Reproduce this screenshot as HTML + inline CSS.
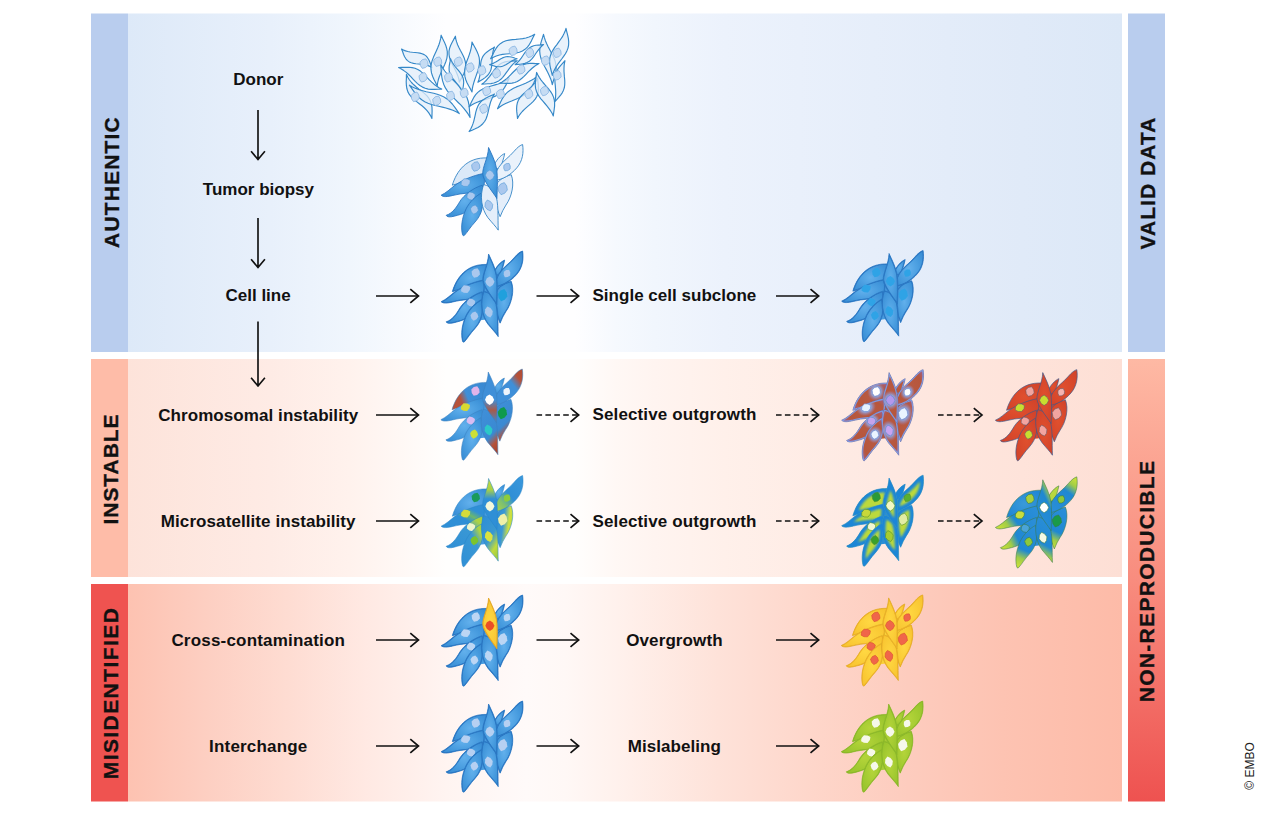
<!DOCTYPE html><html><head><meta charset="utf-8"><title>Cell line authenticity</title>
<style>
html,body{margin:0;padding:0;background:#fff}
#stage{position:relative;width:1264px;height:817px;overflow:hidden;background:#fff;font-family:"Liberation Sans",sans-serif;}
svg{position:absolute;left:0;top:0}
.t{position:absolute;font-weight:bold;font-size:17px;line-height:20px;height:20px;color:#111;white-space:nowrap;text-align:center;transform:translateX(-50%)}
.v{position:absolute;font-weight:bold;font-size:21px;line-height:21px;-webkit-text-stroke:0.35px #111;color:#111;white-space:nowrap;transform:translate(-50%,-50%) rotate(-90deg);transform-origin:50% 50%}
.c{position:absolute;font-size:12px;line-height:12px;color:#222;white-space:nowrap;transform:translate(-50%,-50%) rotate(-90deg)}
</style></head><body><div id="stage">
<svg width="1264" height="817" viewBox="0 0 1264 817">
<defs>
<linearGradient id="b1" x1="0" x2="1" y1="0" y2="0"><stop offset="0" stop-color="#dde9f8"/><stop offset="0.143" stop-color="#e8f0fb"/><stop offset="0.223" stop-color="#f0f6fd"/><stop offset="0.274" stop-color="#f7fafe"/><stop offset="0.32" stop-color="#fefeff"/><stop offset="0.45" stop-color="#fefeff"/><stop offset="0.49" stop-color="#f6f9fe"/><stop offset="0.53" stop-color="#f1f6fd"/><stop offset="0.6" stop-color="#ecf2fc"/><stop offset="0.75" stop-color="#e6eefa"/><stop offset="0.9" stop-color="#e0eaf8"/><stop offset="1" stop-color="#dce8f7"/></linearGradient>
<linearGradient id="b2" x1="0" x2="1" y1="0" y2="0"><stop offset="0" stop-color="#fde3da"/><stop offset="0.143" stop-color="#feebe5"/><stop offset="0.223" stop-color="#fff2ed"/><stop offset="0.274" stop-color="#fff8f5"/><stop offset="0.32" stop-color="#fffefd"/><stop offset="0.45" stop-color="#fffefd"/><stop offset="0.49" stop-color="#fff8f5"/><stop offset="0.53" stop-color="#fff4f0"/><stop offset="0.6" stop-color="#fff0ea"/><stop offset="0.75" stop-color="#fee9e2"/><stop offset="0.9" stop-color="#fee3da"/><stop offset="1" stop-color="#fddfd5"/></linearGradient>
<linearGradient id="b3" x1="0" x2="1" y1="0" y2="0"><stop offset="0" stop-color="#fdc2b1"/><stop offset="0.08" stop-color="#fdcfc2"/><stop offset="0.16" stop-color="#fedcd2"/><stop offset="0.24" stop-color="#ffe9e3"/><stop offset="0.32" stop-color="#fff4f1"/><stop offset="0.4" stop-color="#fffaf9"/><stop offset="0.44" stop-color="#fff8f6"/><stop offset="0.5" stop-color="#fff0eb"/><stop offset="0.594" stop-color="#fee2d9"/><stop offset="0.69" stop-color="#fed6ca"/><stop offset="0.785" stop-color="#fdccbe"/><stop offset="0.88" stop-color="#fdc3b2"/><stop offset="1" stop-color="#fdbba8"/></linearGradient>
<linearGradient id="r2" x1="0" x2="0" y1="0" y2="1"><stop offset="0" stop-color="#feb9a4"/><stop offset="0.5" stop-color="#f88c7e"/><stop offset="1" stop-color="#ee5250"/></linearGradient>
<linearGradient id="gBlue" x1="0" x2="1" y1="0" y2="1"><stop offset="0" stop-color="#4a9fe0"/><stop offset="1" stop-color="#2b7fcb"/></linearGradient>

<radialGradient id="gB" cx="0.5" cy="0.5" r="0.6"><stop offset="0" stop-color="#62b0ec"/><stop offset="0.6" stop-color="#489cdf"/><stop offset="1" stop-color="#3a8fd6"/></radialGradient>
<linearGradient id="cr_tr" x1="0" y1="1" x2="1" y2="0"><stop offset="0" stop-color="#3f8fd8"/><stop offset="0.62" stop-color="#3f8fd8"/><stop offset="0.8" stop-color="#b5523a"/><stop offset="1" stop-color="#b04a32"/></linearGradient>
<linearGradient id="cr_l" x1="0" y1="0.6" x2="1" y2="0.3"><stop offset="0" stop-color="#b5523a"/><stop offset="0.22" stop-color="#b5523a"/><stop offset="0.42" stop-color="#3f8fd8"/><stop offset="1" stop-color="#3a89d2"/></linearGradient>
<linearGradient id="cr_b" x1="0.3" y1="0" x2="0.7" y2="1"><stop offset="0" stop-color="#3f8fd8"/><stop offset="0.6" stop-color="#3a89d2"/><stop offset="0.82" stop-color="#b5523a"/><stop offset="1" stop-color="#a8452e"/></linearGradient>
<linearGradient id="cr_m" x1="0.5" y1="0" x2="0.5" y2="1"><stop offset="0" stop-color="#3f8fd8"/><stop offset="0.55" stop-color="#3f8fd8"/><stop offset="0.75" stop-color="#a85a4a"/><stop offset="1" stop-color="#3a89d2"/></linearGradient>
<linearGradient id="ms_t" x1="0.5" y1="0" x2="0.5" y2="1"><stop offset="0" stop-color="#c8dc3c"/><stop offset="0.22" stop-color="#a8d048"/><stop offset="0.40" stop-color="#2f8fd6"/><stop offset="1" stop-color="#2f8fd6"/></linearGradient>
<linearGradient id="ms_r" x1="0" y1="0.3" x2="1" y2="0.6"><stop offset="0" stop-color="#2f8fd6"/><stop offset="0.45" stop-color="#3a98d4"/><stop offset="0.75" stop-color="#cfe040"/><stop offset="1" stop-color="#b8d83c"/></linearGradient>
<linearGradient id="ms_b" x1="0.2" y1="0" x2="0.8" y2="1"><stop offset="0" stop-color="#2f8fd6"/><stop offset="0.5" stop-color="#3a98d0"/><stop offset="0.78" stop-color="#c0da3c"/><stop offset="1" stop-color="#9ccc40"/></linearGradient>
<linearGradient id="ms_d" x1="0" y1="1" x2="1" y2="0"><stop offset="0" stop-color="#2f8fd6"/><stop offset="0.62" stop-color="#3a98d4"/><stop offset="0.85" stop-color="#b0d440"/><stop offset="1" stop-color="#a0d048"/></linearGradient>
<linearGradient id="ms_7" x1="0" y1="1" x2="1" y2="0"><stop offset="0" stop-color="#b8d83c"/><stop offset="0.28" stop-color="#7cc070"/><stop offset="0.5" stop-color="#2f8fd6"/><stop offset="1" stop-color="#3a98dc"/></linearGradient>
<linearGradient id="ms_u" x1="0" y1="1" x2="1" y2="0"><stop offset="0" stop-color="#2f8fd6"/><stop offset="0.45" stop-color="#2f8fd6"/><stop offset="0.6" stop-color="#6cb86c"/><stop offset="0.75" stop-color="#2f8fd6"/><stop offset="1" stop-color="#2f8fd6"/></linearGradient>
<radialGradient id="mo1" cx="0.5" cy="0.5" r="0.55"><stop offset="0" stop-color="#c4de3a"/><stop offset="0.45" stop-color="#a4d048"/><stop offset="0.8" stop-color="#2a8ed8"/><stop offset="1" stop-color="#1f86d6"/></radialGradient>
<linearGradient id="mo2_tip_l" x1="0" y1="0.7" x2="1" y2="0.3"><stop offset="0" stop-color="#c4de3a"/><stop offset="0.2" stop-color="#a0cc48"/><stop offset="0.42" stop-color="#1f88d2"/><stop offset="1" stop-color="#2a8ed8"/></linearGradient>
<linearGradient id="mo2_tip_b" x1="0.6" y1="0" x2="0.4" y2="1"><stop offset="0" stop-color="#2a8ed8"/><stop offset="0.6" stop-color="#1f88d2"/><stop offset="0.82" stop-color="#a0cc48"/><stop offset="1" stop-color="#c4de3a"/></linearGradient>
<linearGradient id="mo2_tip_t" x1="0.2" y1="1" x2="0.8" y2="0"><stop offset="0" stop-color="#2a8ed8"/><stop offset="0.64" stop-color="#1f88d2"/><stop offset="0.85" stop-color="#a0cc48"/><stop offset="1" stop-color="#c4de3a"/></linearGradient>
<radialGradient id="co1" cx="0.5" cy="0.5" r="0.65"><stop offset="0" stop-color="#b85a42"/><stop offset="0.7" stop-color="#b6563c"/><stop offset="1" stop-color="#a0608a"/></radialGradient>
<linearGradient id="co1b" x1="0" y1="1" x2="1" y2="0"><stop offset="0" stop-color="#b4503a"/><stop offset="0.45" stop-color="#9a6a80"/><stop offset="0.7" stop-color="#8aa0dc"/><stop offset="1" stop-color="#b4503a"/></linearGradient>
<linearGradient id="co1c" x1="0" y1="0" x2="1" y2="1"><stop offset="0" stop-color="#8aa0dc"/><stop offset="0.4" stop-color="#9a7090"/><stop offset="1" stop-color="#b4503a"/></linearGradient>
<radialGradient id="co2" cx="0.5" cy="0.5" r="0.6"><stop offset="0" stop-color="#e0502e"/><stop offset="1" stop-color="#d2432a"/></radialGradient>
<radialGradient id="gY" cx="0.5" cy="0.5" r="0.6"><stop offset="0" stop-color="#ffd842"/><stop offset="1" stop-color="#f8c430"/></radialGradient>
<radialGradient id="gG" cx="0.5" cy="0.5" r="0.6"><stop offset="0" stop-color="#b4d43a"/><stop offset="1" stop-color="#98c42c"/></radialGradient>
<radialGradient id="hLil"><stop offset="0" stop-color="#8ea8e4" stop-opacity="0.95"/><stop offset="0.55" stop-color="#8ea8e4" stop-opacity="0.85"/><stop offset="0.8" stop-color="#9a88b8" stop-opacity="0.45"/><stop offset="1" stop-color="#a87080" stop-opacity="0"/></radialGradient>
<radialGradient id="hGrn"><stop offset="0" stop-color="#c6de3a" stop-opacity="1"/><stop offset="0.55" stop-color="#b4d840" stop-opacity="0.95"/><stop offset="0.8" stop-color="#7cc070" stop-opacity="0.5"/><stop offset="1" stop-color="#4aa8b0" stop-opacity="0"/></radialGradient>
<radialGradient id="gB2" cx="0.5" cy="0.5" r="0.6"><stop offset="0" stop-color="#3a9ad8"/><stop offset="1" stop-color="#1f86d6"/></radialGradient>
<clipPath id="cc9"><path d="M555 149 C528 160 490 195 462 262 L522 262 C534 222 548 186 555 149Z"/></clipPath><clipPath id="cc7"><path d="M688 82 C672 86 650 102 625 132 C590 174 540 206 510 252 C490 286 480 320 474 352 C540 342 600 308 645 255 C688 205 697 142 688 82Z"/></clipPath><clipPath id="cc8"><path d="M603 306 C630 372 608 470 564 532 C546 558 534 586 521 618 C496 560 474 470 486 400 C498 345 560 318 603 306Z"/></clipPath><clipPath id="cc1"><path d="M166 384 C195 285 270 172 430 182 C430 240 420 300 400 340 C335 345 240 360 166 384Z"/></clipPath><clipPath id="cc2"><path d="M83 458 C120 442 150 412 185 385 C240 345 320 312 398 297 C410 340 405 380 392 425 C320 445 240 440 170 460 C130 470 98 474 83 458Z"/></clipPath><clipPath id="cc3"><path d="M120 608 C165 594 195 552 222 505 C250 458 320 405 388 384 C400 430 392 480 360 522 C310 575 240 600 180 614 C150 622 126 622 120 608Z"/></clipPath><clipPath id="cc4"><path d="M242 752 C228 700 236 630 268 560 C296 505 340 465 382 442 C402 520 392 595 334 658 C300 694 280 730 256 756 C250 761 244 759 242 752Z"/></clipPath><clipPath id="cc6"><path d="M398 380 C368 465 382 560 430 625 C460 662 490 692 507 718 C503 620 512 520 484 440 C462 400 425 385 398 380Z"/></clipPath><clipPath id="cc5"><path d="M435 104 C432 184 388 250 392 302 C398 352 455 420 497 482 C501 400 503 320 495 262 C485 205 458 154 435 104Z"/></clipPath><filter id="bl5" x="-30%" y="-30%" width="160%" height="160%"><feGaussianBlur stdDeviation="5"/></filter><filter id="bl9" x="-30%" y="-30%" width="160%" height="160%"><feGaussianBlur stdDeviation="9"/></filter>
</defs>
<rect x="91" y="13.5" width="37" height="338.5" fill="#b9cdee"/>
<rect x="128" y="13.5" width="994" height="338.5" fill="url(#b1)"/>
<rect x="1128" y="13.5" width="37" height="338.5" fill="#b9cdee"/>
<rect x="91" y="359" width="37" height="218" fill="#febca8"/>
<rect x="128" y="359" width="994" height="218" fill="url(#b2)"/>
<rect x="91" y="584" width="37" height="217.5" fill="#ef5350"/>
<rect x="128" y="584" width="994" height="217.5" fill="url(#b3)"/>
<rect x="1128" y="359" width="37" height="442.5" fill="url(#r2)"/>
<g fill="none" stroke="#111" stroke-width="1.65" stroke-linecap="butt" stroke-linejoin="miter">
<path d="M258 110V159.0M251.1 151.3L258 159.5L264.9 151.3"/>
<path d="M258 218V267.0M251.1 259.3L258 267.5L264.9 259.3"/>
<path d="M258 321.5V385.5M251.1 377.8L258 386L264.9 377.8"/>
<path d="M376 296H418.0"/><path d="M410.3 289.1L418.5 296L410.3 302.9"/>
<path d="M536.5 296H578.2"/><path d="M570.5 289.1L578.7 296L570.5 302.9"/>
<path d="M776 296H818.2"/><path d="M810.5 289.1L818.7 296L810.5 302.9"/>
<path d="M376 415H418.0"/><path d="M410.3 408.1L418.5 415L410.3 421.9"/>
<path d="M536.5 415H578.2" stroke-dasharray="5.6 3.3" stroke-width="1.45"/><path d="M570.5 408.1L578.7 415L570.5 421.9"/>
<path d="M776 415H818.2" stroke-dasharray="5.6 3.3" stroke-width="1.45"/><path d="M810.5 408.1L818.7 415L810.5 421.9"/>
<path d="M938 415H981.5" stroke-dasharray="5.6 3.3" stroke-width="1.45"/><path d="M973.8 408.1L982 415L973.8 421.9"/>
<path d="M376 521H418.0"/><path d="M410.3 514.1L418.5 521L410.3 527.9"/>
<path d="M536.5 521H578.2" stroke-dasharray="5.6 3.3" stroke-width="1.45"/><path d="M570.5 514.1L578.7 521L570.5 527.9"/>
<path d="M776 521H818.2" stroke-dasharray="5.6 3.3" stroke-width="1.45"/><path d="M810.5 514.1L818.7 521L810.5 527.9"/>
<path d="M938 521H981.5" stroke-dasharray="5.6 3.3" stroke-width="1.45"/><path d="M973.8 514.1L982 521L973.8 527.9"/>
<path d="M376 640H418.0"/><path d="M410.3 633.1L418.5 640L410.3 646.9"/>
<path d="M536.5 640H578.2"/><path d="M570.5 633.1L578.7 640L570.5 646.9"/>
<path d="M776 640H818.2"/><path d="M810.5 633.1L818.7 640L810.5 646.9"/>
<path d="M376 746H418.0"/><path d="M410.3 739.1L418.5 746L410.3 752.9"/>
<path d="M536.5 746H578.2"/><path d="M570.5 739.1L578.7 746L570.5 752.9"/>
<path d="M776 746H818.2"/><path d="M810.5 739.1L818.7 746L810.5 752.9"/>
</g>
<g fill="#e2eef9" fill-opacity="0.75" stroke="#3588c8" stroke-width="1.15" stroke-linejoin="round">
<path d="M401.5 49.0 L402.6 51.5 L403.5 54.2 L404.6 56.7 L405.9 58.8 L407.5 60.6 L409.3 61.9 L411.3 62.8 L413.5 63.4 L415.9 63.8 L418.4 64.0 L420.9 64.2 L423.3 64.5 L425.7 65.0 L427.9 65.6 L430.0 66.4 L431.9 67.6 L430.9 65.0 L429.9 62.3 L428.8 59.8 L427.5 57.7 L426.0 55.9 L424.2 54.6 L422.1 53.7 L419.9 53.1 L417.5 52.7 L415.0 52.5 L412.5 52.3 L410.1 52.0 L407.8 51.5 L405.6 50.9 L403.5 50.1Z"/>
<path d="M398.6 67.6 L401.3 68.9 L403.8 70.6 L406.3 72.4 L408.6 74.5 L410.8 76.7 L413.0 79.1 L415.2 81.4 L417.5 83.6 L419.9 85.5 L422.5 87.1 L425.2 88.3 L428.2 89.1 L431.4 89.4 L434.8 89.4 L438.3 89.2 L441.7 89.1 L439.0 87.7 L436.5 86.1 L434.0 84.2 L431.7 82.1 L429.4 79.9 L427.2 77.6 L425.0 75.3 L422.8 73.1 L420.4 71.1 L417.8 69.5 L415.0 68.3 L412.1 67.6 L408.9 67.3 L405.5 67.3 L402.0 67.4Z"/>
<path d="M406.4 74.4 L406.4 78.1 L406.2 81.9 L406.4 85.5 L406.9 88.8 L407.9 91.9 L409.5 94.7 L411.5 97.2 L413.9 99.5 L416.6 101.6 L419.3 103.7 L422.0 105.8 L424.5 108.0 L426.8 110.4 L428.8 112.9 L430.5 115.6 L431.9 118.5 L432.0 114.7 L432.1 111.0 L432.0 107.4 L431.4 104.0 L430.4 101.0 L428.8 98.2 L426.8 95.7 L424.4 93.4 L421.8 91.3 L419.0 89.2 L416.3 87.0 L413.8 84.8 L411.5 82.5 L409.5 80.0 L407.8 77.3Z"/>
<path d="M409.4 85.2 L411.7 88.4 L414.0 91.6 L416.3 94.7 L418.9 97.5 L421.7 99.8 L424.7 101.8 L428.0 103.3 L431.4 104.5 L435.0 105.4 L438.7 106.3 L442.3 107.1 L445.9 108.0 L449.5 109.1 L452.9 110.3 L456.2 111.8 L459.3 113.6 L457.0 110.4 L454.7 107.1 L452.3 104.0 L449.8 101.3 L447.0 98.9 L444.0 97.0 L440.7 95.5 L437.2 94.3 L433.7 93.3 L430.0 92.5 L426.3 91.7 L422.7 90.7 L419.2 89.7 L415.8 88.4 L412.5 86.9Z"/>
<path d="M441.1 35.2 L440.7 38.4 L439.9 41.6 L438.9 44.7 L437.7 47.8 L436.3 50.9 L434.9 54.0 L433.5 57.1 L432.3 60.2 L431.4 63.3 L430.9 66.5 L431.0 69.7 L431.5 72.9 L432.6 76.2 L434.0 79.5 L435.7 82.8 L437.2 86.2 L437.6 83.0 L438.3 79.8 L439.3 76.7 L440.6 73.6 L441.9 70.5 L443.4 67.4 L444.8 64.3 L446.0 61.2 L446.9 58.1 L447.3 54.9 L447.3 51.7 L446.7 48.5 L445.7 45.2 L444.3 41.9 L442.6 38.6Z"/>
<path d="M455.4 36.2 L453.8 39.3 L452.2 42.3 L450.7 45.3 L449.6 48.3 L449.0 51.2 L449.0 54.2 L449.4 57.0 L450.3 59.8 L451.5 62.6 L452.9 65.4 L454.4 68.2 L455.8 71.0 L457.0 73.7 L458.1 76.6 L458.9 79.4 L459.3 82.2 L460.9 79.2 L462.5 76.2 L464.0 73.2 L465.1 70.2 L465.7 67.2 L465.7 64.3 L465.3 61.5 L464.4 58.6 L463.2 55.8 L461.8 53.1 L460.3 50.3 L458.9 47.5 L457.6 44.7 L456.6 41.9 L455.8 39.1Z"/>
<path d="M472.0 42.1 L471.7 45.2 L471.1 48.3 L470.3 51.5 L469.3 54.6 L468.2 57.7 L467.0 60.8 L466.0 63.9 L465.2 67.1 L464.7 70.2 L464.6 73.3 L464.9 76.4 L465.7 79.5 L467.0 82.7 L468.6 85.8 L470.4 88.9 L472.0 92.0 L472.3 88.9 L472.9 85.8 L473.8 82.7 L474.8 79.5 L475.9 76.4 L477.0 73.3 L478.1 70.2 L478.9 67.1 L479.4 63.9 L479.5 60.8 L479.2 57.7 L478.3 54.6 L477.0 51.5 L475.4 48.3 L473.7 45.2Z"/>
<path d="M494.5 47.0 L492.2 48.6 L489.7 50.1 L487.3 51.7 L485.3 53.4 L483.6 55.3 L482.4 57.4 L481.5 59.7 L480.9 62.1 L480.6 64.7 L480.4 67.3 L480.3 69.9 L480.2 72.5 L479.9 75.1 L479.4 77.6 L478.8 80.0 L477.9 82.2 L480.3 80.7 L482.8 79.2 L485.1 77.6 L487.2 75.8 L488.8 73.9 L490.1 71.8 L491.0 69.6 L491.5 67.1 L491.8 64.6 L492.0 62.0 L492.1 59.3 L492.3 56.7 L492.6 54.1 L493.0 51.7 L493.6 49.3Z"/>
<path d="M534.7 34.3 L532.0 35.8 L529.0 37.0 L525.9 38.0 L522.7 38.6 L519.3 39.0 L515.9 39.4 L512.5 39.6 L509.1 40.1 L505.9 40.8 L502.9 42.0 L500.3 43.7 L497.9 45.9 L495.9 48.7 L494.0 51.9 L492.4 55.4 L490.6 58.7 L493.4 57.2 L496.3 56.0 L499.4 55.0 L502.6 54.4 L506.0 54.0 L509.4 53.7 L512.9 53.4 L516.2 52.9 L519.4 52.2 L522.4 51.0 L525.0 49.3 L527.4 47.1 L529.5 44.3 L531.3 41.1 L533.0 37.6Z"/>
<path d="M440.7 64.6 L441.1 68.7 L441.3 72.9 L441.8 77.0 L442.6 80.9 L443.8 84.5 L445.4 87.9 L447.5 91.1 L449.9 94.1 L452.6 96.9 L455.4 99.7 L458.2 102.5 L461.0 105.2 L463.6 108.1 L466.0 111.1 L468.2 114.2 L470.1 117.5 L469.7 113.4 L469.4 109.2 L469.0 105.1 L468.2 101.2 L467.0 97.6 L465.3 94.2 L463.3 91.0 L460.9 88.0 L458.2 85.2 L455.4 82.4 L452.6 79.6 L449.8 76.9 L447.2 74.0 L444.8 71.0 L442.6 67.9Z"/>
<path d="M517.1 60.7 L514.0 60.9 L510.9 61.1 L507.9 61.3 L505.1 61.9 L502.5 62.8 L500.2 64.0 L498.1 65.6 L496.2 67.6 L494.4 69.7 L492.8 72.0 L491.1 74.3 L489.5 76.6 L487.7 78.7 L485.9 80.8 L483.9 82.6 L481.8 84.2 L484.9 84.0 L487.9 83.8 L490.9 83.6 L493.8 83.0 L496.3 82.1 L498.7 80.9 L500.8 79.3 L502.7 77.3 L504.5 75.2 L506.1 72.9 L507.8 70.6 L509.4 68.3 L511.2 66.2 L513.0 64.1 L514.9 62.3Z"/>
<path d="M469.1 106.7 L471.6 105.0 L474.3 103.5 L477.2 102.2 L480.1 101.1 L483.2 100.1 L486.4 99.2 L489.5 98.3 L492.6 97.3 L495.5 96.1 L498.1 94.6 L500.5 92.6 L502.7 90.3 L504.5 87.6 L506.2 84.6 L507.7 81.4 L509.2 78.3 L506.7 80.1 L504.0 81.6 L501.2 82.9 L498.2 84.0 L495.1 84.9 L492.0 85.8 L488.8 86.7 L485.8 87.7 L482.9 88.9 L480.2 90.5 L477.8 92.4 L475.7 94.7 L473.8 97.4 L472.2 100.4 L470.7 103.6Z"/>
<path d="M469.1 131.6 L472.1 130.2 L475.2 128.8 L478.0 127.4 L480.6 125.7 L482.8 123.7 L484.6 121.5 L486.0 119.0 L487.0 116.3 L487.8 113.4 L488.5 110.4 L489.1 107.5 L489.9 104.5 L490.7 101.7 L491.8 99.0 L493.0 96.4 L494.5 94.0 L491.6 95.4 L488.5 96.7 L485.6 98.2 L483.0 99.9 L480.8 101.8 L479.0 104.1 L477.7 106.6 L476.6 109.3 L475.8 112.2 L475.2 115.1 L474.5 118.1 L473.8 121.1 L472.9 123.9 L471.9 126.6 L470.6 129.2Z"/>
<path d="M497.5 108.7 L500.0 106.8 L502.7 105.1 L505.6 103.6 L508.5 102.2 L511.6 101.0 L514.6 99.7 L517.7 98.5 L520.7 97.1 L523.4 95.5 L526.0 93.7 L528.3 91.5 L530.3 89.0 L532.1 86.2 L533.7 83.1 L535.1 79.9 L536.6 76.8 L534.1 78.7 L531.4 80.3 L528.6 81.8 L525.6 83.2 L522.6 84.5 L519.5 85.7 L516.4 86.9 L513.5 88.3 L510.7 89.9 L508.1 91.7 L505.8 93.9 L503.8 96.4 L502.0 99.3 L500.5 102.3 L499.0 105.5Z"/>
<path d="M543.5 34.3 L542.5 37.7 L541.4 41.1 L540.5 44.5 L539.9 47.9 L539.7 51.1 L540.0 54.3 L540.7 57.5 L541.7 60.5 L543.1 63.5 L544.6 66.5 L546.2 69.4 L547.8 72.4 L549.2 75.4 L550.5 78.4 L551.6 81.5 L552.3 84.6 L553.3 81.2 L554.4 77.7 L555.3 74.3 L555.9 71.0 L556.1 67.7 L555.8 64.5 L555.2 61.4 L554.1 58.3 L552.7 55.3 L551.2 52.4 L549.6 49.4 L548.0 46.4 L546.6 43.4 L545.3 40.4 L544.3 37.4Z"/>
<path d="M566.0 28.4 L565.1 31.3 L563.8 34.1 L562.3 36.9 L560.5 39.5 L558.6 42.2 L556.7 44.8 L554.7 47.4 L553.0 50.1 L551.5 52.8 L550.4 55.7 L549.7 58.7 L549.6 61.9 L549.9 65.1 L550.6 68.5 L551.5 72.0 L552.3 75.4 L553.3 72.5 L554.5 69.7 L556.1 66.9 L557.8 64.2 L559.7 61.6 L561.7 59.0 L563.6 56.4 L565.4 53.7 L566.9 50.9 L568.0 48.1 L568.6 45.1 L568.7 41.9 L568.4 38.6 L567.7 35.3 L566.8 31.8Z"/>
<path d="M565.0 60.7 L563.0 62.9 L561.0 65.1 L559.1 67.4 L557.5 69.7 L556.3 72.2 L555.5 74.7 L555.0 77.3 L554.9 80.0 L555.0 82.8 L555.3 85.6 L555.5 88.4 L555.7 91.2 L555.7 93.9 L555.6 96.6 L555.3 99.2 L554.7 101.8 L556.7 99.6 L558.7 97.4 L560.6 95.1 L562.2 92.8 L563.4 90.4 L564.3 87.8 L564.7 85.2 L564.8 82.5 L564.7 79.7 L564.4 76.9 L564.2 74.2 L564.0 71.4 L564.0 68.6 L564.1 65.9 L564.4 63.3Z"/>
<path d="M517.5 118.5 L518.8 116.0 L520.5 113.7 L522.3 111.5 L524.4 109.4 L526.6 107.4 L528.9 105.4 L531.2 103.4 L533.3 101.3 L535.2 99.1 L536.7 96.7 L537.7 94.1 L538.3 91.2 L538.4 88.2 L538.3 84.9 L537.9 81.6 L537.6 78.3 L536.3 80.8 L534.6 83.1 L532.7 85.3 L530.7 87.4 L528.4 89.4 L526.1 91.4 L523.9 93.4 L521.8 95.5 L519.9 97.7 L518.4 100.1 L517.4 102.7 L516.8 105.6 L516.6 108.6 L516.8 111.9 L517.2 115.2Z"/>
<path d="M536.6 72.4 L536.2 75.7 L535.7 79.0 L535.4 82.3 L535.3 85.4 L535.6 88.4 L536.4 91.2 L537.6 93.9 L539.1 96.4 L540.9 98.8 L542.9 101.2 L544.9 103.5 L546.9 105.9 L548.8 108.3 L550.5 110.7 L552.1 113.3 L553.3 115.9 L553.7 112.6 L554.2 109.3 L554.6 106.1 L554.6 102.9 L554.3 100.0 L553.5 97.1 L552.4 94.5 L550.8 91.9 L549.0 89.5 L547.0 87.2 L545.0 84.8 L543.0 82.5 L541.1 80.1 L539.4 77.6 L537.9 75.1Z"/>
<path d="M515.1 64.6 L517.6 64.4 L520.1 64.2 L522.6 63.9 L524.9 63.4 L527.0 62.6 L528.9 61.6 L530.6 60.2 L532.1 58.6 L533.5 56.9 L534.8 55.0 L536.1 53.0 L537.5 51.1 L538.8 49.3 L540.3 47.6 L541.8 46.0 L543.5 44.6 L541.0 44.9 L538.5 45.1 L536.0 45.3 L533.7 45.8 L531.6 46.6 L529.7 47.7 L528.0 49.0 L526.5 50.6 L525.1 52.4 L523.8 54.3 L522.5 56.2 L521.2 58.1 L519.8 60.0 L518.3 61.7 L516.8 63.2Z"/>
<path d="M450.5 58.7 L450.1 61.2 L449.6 63.8 L449.2 66.2 L449.1 68.6 L449.2 70.9 L449.8 73.0 L450.6 75.1 L451.7 77.0 L453.1 78.9 L454.6 80.7 L456.1 82.5 L457.6 84.3 L459.0 86.2 L460.3 88.1 L461.4 90.0 L462.2 92.0 L462.7 89.5 L463.2 87.0 L463.5 84.6 L463.7 82.2 L463.5 79.9 L463.0 77.7 L462.1 75.7 L461.0 73.8 L459.6 71.9 L458.2 70.1 L456.6 68.3 L455.1 66.5 L453.7 64.6 L452.5 62.7 L451.4 60.8Z"/>
<path d="M489.7 64.6 L491.6 65.2 L493.5 65.8 L495.4 66.4 L497.3 66.7 L499.1 66.8 L500.8 66.6 L502.5 66.2 L504.2 65.5 L505.8 64.7 L507.4 63.7 L509.0 62.7 L510.5 61.7 L512.1 60.8 L513.7 60.0 L515.4 59.3 L517.1 58.7 L515.2 58.2 L513.2 57.5 L511.3 57.0 L509.5 56.7 L507.6 56.6 L505.9 56.7 L504.2 57.2 L502.5 57.9 L500.9 58.7 L499.3 59.7 L497.8 60.7 L496.2 61.7 L494.6 62.6 L493.0 63.4 L491.3 64.1Z"/>
<path d="M499.8 83.2 L502.9 83.3 L506.1 83.4 L509.1 83.4 L512.0 83.1 L514.8 82.5 L517.3 81.5 L519.7 80.0 L521.9 78.3 L524.0 76.4 L526.0 74.3 L528.0 72.2 L530.0 70.2 L532.1 68.3 L534.3 66.5 L536.6 64.9 L539.0 63.6 L535.9 63.6 L532.8 63.4 L529.7 63.4 L526.8 63.7 L524.1 64.4 L521.5 65.4 L519.2 66.8 L517.0 68.5 L514.9 70.5 L512.8 72.5 L510.8 74.6 L508.8 76.7 L506.7 78.6 L504.5 80.3 L502.2 81.9Z"/>
</g>
<g fill="#c6dcf3" stroke="#86b4e2" stroke-width="0.8">
<path d="M428.1 65.1 L425.6 67.5 L422.3 68.4 L420.4 65.6 L420.0 62.2 L422.4 59.6 L425.8 58.9 L427.7 61.7Z"/>
<path d="M427.1 78.8 L424.6 81.2 L421.4 82.1 L419.5 79.3 L419.0 75.9 L421.5 73.3 L424.8 72.6 L426.7 75.4Z"/>
<path d="M419.3 98.4 L416.8 100.8 L413.5 101.7 L411.6 98.9 L411.2 95.5 L413.6 92.9 L417.0 92.1 L418.9 95.0Z"/>
<path d="M440.8 102.3 L438.3 104.7 L435.1 105.6 L433.2 102.8 L432.7 99.4 L435.2 96.8 L438.5 96.1 L440.4 98.9Z"/>
<path d="M441.8 63.2 L439.3 65.6 L436.0 66.4 L434.1 63.6 L433.7 60.2 L436.2 57.7 L439.5 56.9 L441.4 59.7Z"/>
<path d="M462.4 63.2 L459.9 65.6 L456.6 66.4 L454.7 63.6 L454.3 60.2 L456.7 57.7 L460.1 56.9 L461.9 59.7Z"/>
<path d="M474.1 69.0 L471.6 71.4 L468.3 72.3 L466.5 69.5 L466.0 66.1 L468.5 63.5 L471.8 62.8 L473.7 65.6Z"/>
<path d="M485.9 72.0 L483.4 74.4 L480.1 75.2 L478.2 72.4 L477.8 69.0 L480.2 66.5 L483.6 65.7 L485.4 68.6Z"/>
<path d="M517.2 52.4 L514.7 54.8 L511.4 55.6 L509.5 52.8 L509.1 49.4 L511.5 46.9 L514.9 46.1 L516.8 49.0Z"/>
<path d="M452.6 78.8 L450.1 81.2 L446.8 82.1 L444.9 79.3 L444.5 75.9 L446.9 73.3 L450.3 72.6 L452.1 75.4Z"/>
<path d="M454.5 97.4 L452.1 99.8 L448.8 100.7 L446.9 97.9 L446.5 94.5 L448.9 91.9 L452.2 91.2 L454.1 94.0Z"/>
<path d="M468.2 94.5 L465.8 96.9 L462.5 97.7 L460.6 94.9 L460.2 91.5 L462.6 89.0 L465.9 88.2 L467.8 91.1Z"/>
<path d="M500.5 74.9 L498.1 77.3 L494.8 78.2 L492.9 75.4 L492.5 72.0 L494.9 69.4 L498.2 68.6 L500.1 71.5Z"/>
<path d="M490.8 92.5 L488.3 94.9 L485.0 95.8 L483.1 93.0 L482.7 89.6 L485.1 87.0 L488.5 86.3 L490.3 89.1Z"/>
<path d="M487.8 110.1 L485.3 112.6 L482.1 113.4 L480.2 110.6 L479.7 107.2 L482.2 104.7 L485.5 103.9 L487.4 106.7Z"/>
<path d="M504.5 95.5 L502.0 97.9 L498.7 98.7 L496.8 95.9 L496.4 92.5 L498.8 90.0 L502.2 89.2 L504.0 92.1Z"/>
<path d="M549.5 62.2 L547.0 64.6 L543.7 65.4 L541.8 62.6 L541.4 59.2 L543.8 56.7 L547.2 55.9 L549.1 58.8Z"/>
<path d="M561.2 54.3 L558.8 56.8 L555.5 57.6 L553.6 54.8 L553.2 51.4 L555.6 48.9 L558.9 48.1 L560.8 50.9Z"/>
<path d="M561.2 76.9 L558.8 79.3 L555.5 80.1 L553.6 77.3 L553.2 73.9 L555.6 71.4 L558.9 70.6 L560.8 73.5Z"/>
<path d="M532.9 95.5 L530.4 97.9 L527.1 98.7 L525.2 95.9 L524.8 92.5 L527.2 90.0 L530.6 89.2 L532.4 92.1Z"/>
<path d="M548.5 92.5 L546.0 94.9 L542.8 95.8 L540.9 93.0 L540.4 89.6 L542.9 87.0 L546.2 86.3 L548.1 89.1Z"/>
<path d="M533.8 54.3 L531.4 56.8 L528.1 57.6 L526.2 54.8 L525.8 51.4 L528.2 48.9 L531.5 48.1 L533.4 50.9Z"/>
<path d="M525.0 71.0 L522.5 73.4 L519.3 74.2 L517.4 71.4 L516.9 68.0 L519.4 65.5 L522.7 64.7 L524.6 67.6Z"/>
</g>
<g transform="translate(430 133.5) scale(0.1346)" stroke-linejoin="round">
<path d="M555 149 C528 160 490 195 462 262 L522 262 C534 222 548 186 555 149Z" fill="#eaf2fb" stroke="#2f82c4" stroke-width="6.5"/>
<path d="M603 306 C630 372 608 470 564 532 C546 558 534 586 521 618 C496 560 474 470 486 400 C498 345 560 318 603 306Z" fill="#e4eefa" stroke="#2f82c4" stroke-width="6.5"/>
<path d="M574.8 419.3 L555.2 443.7 L528.0 454.6 L510.6 431.1 L505.2 400.7 L524.3 375.2 L552.1 364.9 L569.4 388.9Z" fill="#aac8ee" stroke="#4a94d4" stroke-width="4"/>
<path d="M688 82 C672 86 650 102 625 132 C590 174 540 206 510 252 C490 286 480 320 474 352 C540 342 600 308 645 255 C688 205 697 142 688 82Z" fill="#eaf2fb" stroke="#2f82c4" stroke-width="6.5"/>
<path d="M595.4 263.5 L577.5 275.7 L556.2 277.3 L547.6 257.9 L548.6 236.5 L566.4 223.5 L587.9 222.5 L596.4 242.1Z" fill="#aac8ee" stroke="#4a94d4" stroke-width="4"/>
<path d="M166 384 C195 285 270 172 430 182 C430 240 420 300 400 340 C335 345 240 360 166 384Z" fill="#dbe9f8" stroke="#2f82c4" stroke-width="6.5"/>
<path d="M371.0 256.3 L352.2 274.3 L327.1 280.5 L312.4 259.3 L309.0 233.7 L327.4 214.7 L353.1 209.1 L367.6 230.7Z" fill="#aac8ee" stroke="#4a94d4" stroke-width="4"/>
<path d="M83 458 C120 442 150 412 185 385 C240 345 320 312 398 297 C410 340 405 380 392 425 C320 445 240 440 170 460 C130 470 98 474 83 458Z" fill="url(#gB)" stroke="#2874c0" stroke-width="6.5"/>
<path d="M299.4 348.9 L295.7 372.2 L278.3 393.5 L251.2 392.5 L230.6 381.1 L233.3 357.5 L251.6 336.2 L278.8 337.5Z" fill="#aac8ee" stroke="#4a94d4" stroke-width="4"/>
<path d="M120 608 C165 594 195 552 222 505 C250 458 320 405 388 384 C400 430 392 480 360 522 C310 575 240 600 180 614 C150 622 126 622 120 608Z" fill="url(#gB)" stroke="#2874c0" stroke-width="6.5"/>
<path d="M336.0 453.7 L332.1 476.6 L316.1 495.6 L292.0 490.7 L274.0 476.3 L277.0 453.0 L293.8 434.1 L318.0 439.3Z" fill="#aac8ee" stroke="#4a94d4" stroke-width="4"/>
<path d="M242 752 C228 700 236 630 268 560 C296 505 340 465 382 442 C402 520 392 595 334 658 C300 694 280 730 256 756 C250 761 244 759 242 752Z" fill="url(#gB)" stroke="#2874c0" stroke-width="6.5"/>
<path d="M359.5 570.2 L345.5 589.5 L324.0 599.1 L307.6 582.4 L300.5 559.8 L314.0 539.7 L336.1 530.6 L352.4 547.6Z" fill="#aac8ee" stroke="#4a94d4" stroke-width="4"/>
<path d="M398 380 C368 465 382 560 430 625 C460 662 490 692 507 718 C503 620 512 520 484 440 C462 400 425 385 398 380Z" fill="#e4eefa" stroke="#2f82c4" stroke-width="6.5"/>
<path d="M466.0 527.2 L462.6 555.1 L447.9 575.6 L425.1 564.5 L408.0 542.8 L410.6 514.3 L426.0 494.0 L448.9 505.5Z" fill="#aac8ee" stroke="#4a94d4" stroke-width="4"/>
<path d="M435 104 C432 184 388 250 392 302 C398 352 455 420 497 482 C501 400 503 320 495 262 C485 205 458 154 435 104Z" fill="url(#gB)" stroke="#2874c0" stroke-width="6.5"/>
<path d="M479.0 310.0 L467.1 334.1 L445.0 348.9 L423.4 333.5 L411.0 310.0 L422.2 285.1 L445.0 270.8 L466.6 286.5Z" fill="#aac8ee" stroke="#4a94d4" stroke-width="4"/>

</g>
<g transform="translate(430 240) scale(0.1346)" stroke-linejoin="round">
<path d="M290 320 L420 210 L560 250 L590 400 L515 580 L340 600 L290 470Z" fill="#489cdf"/>
<path d="M555 149 C528 160 490 195 462 262 L522 262 C534 222 548 186 555 149Z" fill="url(#gB)" stroke="#2874c0" stroke-width="5.5"/>
<g clip-path="url(#cc9)"><path d="M555 149 C528 160 490 195 462 262 L522 262 C534 222 548 186 555 149Z" fill="none" stroke="#2a76c2" stroke-width="13" filter="url(#bl5)"/></g>
<path d="M603 306 C630 372 608 470 564 532 C546 558 534 586 521 618 C496 560 474 470 486 400 C498 345 560 318 603 306Z" fill="url(#gB)" stroke="#2874c0" stroke-width="5.5"/>
<g clip-path="url(#cc8)"><path d="M603 306 C630 372 608 470 564 532 C546 558 534 586 521 618 C496 560 474 470 486 400 C498 345 560 318 603 306Z" fill="none" stroke="#2a76c2" stroke-width="13" filter="url(#bl5)"/></g>
<path d="M574.8 419.3 L555.2 443.7 L528.0 454.6 L510.6 431.1 L505.2 400.7 L524.3 375.2 L552.1 364.9 L569.4 388.9Z" fill="#1fa0dd" stroke="none" stroke-width="4"/>
<path d="M688 82 C672 86 650 102 625 132 C590 174 540 206 510 252 C490 286 480 320 474 352 C540 342 600 308 645 255 C688 205 697 142 688 82Z" fill="url(#gB)" stroke="#2874c0" stroke-width="5.5"/>
<g clip-path="url(#cc7)"><path d="M688 82 C672 86 650 102 625 132 C590 174 540 206 510 252 C490 286 480 320 474 352 C540 342 600 308 645 255 C688 205 697 142 688 82Z" fill="none" stroke="#2a76c2" stroke-width="13" filter="url(#bl5)"/></g>
<path d="M595.4 263.5 L577.5 275.7 L556.2 277.3 L547.6 257.9 L548.6 236.5 L566.4 223.5 L587.9 222.5 L596.4 242.1Z" fill="#aac8ee" stroke="none" stroke-width="4"/>
<path d="M166 384 C195 285 270 172 430 182 C430 240 420 300 400 340 C335 345 240 360 166 384Z" fill="url(#gB)" stroke="#2874c0" stroke-width="5.5"/>
<g clip-path="url(#cc1)"><path d="M166 384 C195 285 270 172 430 182 C430 240 420 300 400 340 C335 345 240 360 166 384Z" fill="none" stroke="#2a76c2" stroke-width="13" filter="url(#bl5)"/></g>
<path d="M371.0 256.3 L352.2 274.3 L327.1 280.5 L312.4 259.3 L309.0 233.7 L327.4 214.7 L353.1 209.1 L367.6 230.7Z" fill="#aac8ee" stroke="none" stroke-width="4"/>
<path d="M83 458 C120 442 150 412 185 385 C240 345 320 312 398 297 C410 340 405 380 392 425 C320 445 240 440 170 460 C130 470 98 474 83 458Z" fill="url(#gB)" stroke="#2874c0" stroke-width="5.5"/>
<g clip-path="url(#cc2)"><path d="M83 458 C120 442 150 412 185 385 C240 345 320 312 398 297 C410 340 405 380 392 425 C320 445 240 440 170 460 C130 470 98 474 83 458Z" fill="none" stroke="#2a76c2" stroke-width="13" filter="url(#bl5)"/></g>
<path d="M299.4 348.9 L295.7 372.2 L278.3 393.5 L251.2 392.5 L230.6 381.1 L233.3 357.5 L251.6 336.2 L278.8 337.5Z" fill="#aac8ee" stroke="none" stroke-width="4"/>
<path d="M120 608 C165 594 195 552 222 505 C250 458 320 405 388 384 C400 430 392 480 360 522 C310 575 240 600 180 614 C150 622 126 622 120 608Z" fill="url(#gB)" stroke="#2874c0" stroke-width="5.5"/>
<g clip-path="url(#cc3)"><path d="M120 608 C165 594 195 552 222 505 C250 458 320 405 388 384 C400 430 392 480 360 522 C310 575 240 600 180 614 C150 622 126 622 120 608Z" fill="none" stroke="#2a76c2" stroke-width="13" filter="url(#bl5)"/></g>
<path d="M336.0 453.7 L332.1 476.6 L316.1 495.6 L292.0 490.7 L274.0 476.3 L277.0 453.0 L293.8 434.1 L318.0 439.3Z" fill="#aac8ee" stroke="none" stroke-width="4"/>
<path d="M242 752 C228 700 236 630 268 560 C296 505 340 465 382 442 C402 520 392 595 334 658 C300 694 280 730 256 756 C250 761 244 759 242 752Z" fill="url(#gB)" stroke="#2874c0" stroke-width="5.5"/>
<g clip-path="url(#cc4)"><path d="M242 752 C228 700 236 630 268 560 C296 505 340 465 382 442 C402 520 392 595 334 658 C300 694 280 730 256 756 C250 761 244 759 242 752Z" fill="none" stroke="#2a76c2" stroke-width="13" filter="url(#bl5)"/></g>
<path d="M359.5 570.2 L345.5 589.5 L324.0 599.1 L307.6 582.4 L300.5 559.8 L314.0 539.7 L336.1 530.6 L352.4 547.6Z" fill="#aac8ee" stroke="none" stroke-width="4"/>
<path d="M398 380 C368 465 382 560 430 625 C460 662 490 692 507 718 C503 620 512 520 484 440 C462 400 425 385 398 380Z" fill="url(#gB)" stroke="#2874c0" stroke-width="5.5"/>
<g clip-path="url(#cc6)"><path d="M398 380 C368 465 382 560 430 625 C460 662 490 692 507 718 C503 620 512 520 484 440 C462 400 425 385 398 380Z" fill="none" stroke="#2a76c2" stroke-width="13" filter="url(#bl5)"/></g>
<path d="M466.0 527.2 L462.6 555.1 L447.9 575.6 L425.1 564.5 L408.0 542.8 L410.6 514.3 L426.0 494.0 L448.9 505.5Z" fill="#aac8ee" stroke="none" stroke-width="4"/>
<path d="M435 104 C432 184 388 250 392 302 C398 352 455 420 497 482 C501 400 503 320 495 262 C485 205 458 154 435 104Z" fill="url(#gB)" stroke="#2874c0" stroke-width="5.5"/>
<g clip-path="url(#cc5)"><path d="M435 104 C432 184 388 250 392 302 C398 352 455 420 497 482 C501 400 503 320 495 262 C485 205 458 154 435 104Z" fill="none" stroke="#2a76c2" stroke-width="13" filter="url(#bl5)"/></g>
<path d="M479.0 310.0 L467.1 334.1 L445.0 348.9 L423.4 333.5 L411.0 310.0 L422.2 285.1 L445.0 270.8 L466.6 286.5Z" fill="#aac8ee" stroke="none" stroke-width="4"/>

</g>
<g transform="translate(830.5 239.5) scale(0.1346)" stroke-linejoin="round">
<path d="M290 320 L420 210 L560 250 L590 400 L515 580 L340 600 L290 470Z" fill="#489cdf"/>
<path d="M555 149 C528 160 490 195 462 262 L522 262 C534 222 548 186 555 149Z" fill="url(#gB)" stroke="#2874c0" stroke-width="5.5"/>
<g clip-path="url(#cc9)"><path d="M555 149 C528 160 490 195 462 262 L522 262 C534 222 548 186 555 149Z" fill="none" stroke="#2a76c2" stroke-width="13" filter="url(#bl5)"/></g>
<path d="M603 306 C630 372 608 470 564 532 C546 558 534 586 521 618 C496 560 474 470 486 400 C498 345 560 318 603 306Z" fill="url(#gB)" stroke="#2874c0" stroke-width="5.5"/>
<g clip-path="url(#cc8)"><path d="M603 306 C630 372 608 470 564 532 C546 558 534 586 521 618 C496 560 474 470 486 400 C498 345 560 318 603 306Z" fill="none" stroke="#2a76c2" stroke-width="13" filter="url(#bl5)"/></g>
<path d="M574.8 419.3 L555.2 443.7 L528.0 454.6 L510.6 431.1 L505.2 400.7 L524.3 375.2 L552.1 364.9 L569.4 388.9Z" fill="#2fa3e6" stroke="none" stroke-width="4"/>
<path d="M688 82 C672 86 650 102 625 132 C590 174 540 206 510 252 C490 286 480 320 474 352 C540 342 600 308 645 255 C688 205 697 142 688 82Z" fill="url(#gB)" stroke="#2874c0" stroke-width="5.5"/>
<g clip-path="url(#cc7)"><path d="M688 82 C672 86 650 102 625 132 C590 174 540 206 510 252 C490 286 480 320 474 352 C540 342 600 308 645 255 C688 205 697 142 688 82Z" fill="none" stroke="#2a76c2" stroke-width="13" filter="url(#bl5)"/></g>
<path d="M595.4 263.5 L577.5 275.7 L556.2 277.3 L547.6 257.9 L548.6 236.5 L566.4 223.5 L587.9 222.5 L596.4 242.1Z" fill="#2fa3e6" stroke="none" stroke-width="4"/>
<path d="M166 384 C195 285 270 172 430 182 C430 240 420 300 400 340 C335 345 240 360 166 384Z" fill="url(#gB)" stroke="#2874c0" stroke-width="5.5"/>
<g clip-path="url(#cc1)"><path d="M166 384 C195 285 270 172 430 182 C430 240 420 300 400 340 C335 345 240 360 166 384Z" fill="none" stroke="#2a76c2" stroke-width="13" filter="url(#bl5)"/></g>
<path d="M371.0 256.3 L352.2 274.3 L327.1 280.5 L312.4 259.3 L309.0 233.7 L327.4 214.7 L353.1 209.1 L367.6 230.7Z" fill="#2fa3e6" stroke="none" stroke-width="4"/>
<path d="M83 458 C120 442 150 412 185 385 C240 345 320 312 398 297 C410 340 405 380 392 425 C320 445 240 440 170 460 C130 470 98 474 83 458Z" fill="url(#gB)" stroke="#2874c0" stroke-width="5.5"/>
<g clip-path="url(#cc2)"><path d="M83 458 C120 442 150 412 185 385 C240 345 320 312 398 297 C410 340 405 380 392 425 C320 445 240 440 170 460 C130 470 98 474 83 458Z" fill="none" stroke="#2a76c2" stroke-width="13" filter="url(#bl5)"/></g>
<path d="M299.4 348.9 L295.7 372.2 L278.3 393.5 L251.2 392.5 L230.6 381.1 L233.3 357.5 L251.6 336.2 L278.8 337.5Z" fill="#2fa3e6" stroke="none" stroke-width="4"/>
<path d="M120 608 C165 594 195 552 222 505 C250 458 320 405 388 384 C400 430 392 480 360 522 C310 575 240 600 180 614 C150 622 126 622 120 608Z" fill="url(#gB)" stroke="#2874c0" stroke-width="5.5"/>
<g clip-path="url(#cc3)"><path d="M120 608 C165 594 195 552 222 505 C250 458 320 405 388 384 C400 430 392 480 360 522 C310 575 240 600 180 614 C150 622 126 622 120 608Z" fill="none" stroke="#2a76c2" stroke-width="13" filter="url(#bl5)"/></g>
<path d="M336.0 453.7 L332.1 476.6 L316.1 495.6 L292.0 490.7 L274.0 476.3 L277.0 453.0 L293.8 434.1 L318.0 439.3Z" fill="#2fa3e6" stroke="none" stroke-width="4"/>
<path d="M242 752 C228 700 236 630 268 560 C296 505 340 465 382 442 C402 520 392 595 334 658 C300 694 280 730 256 756 C250 761 244 759 242 752Z" fill="url(#gB)" stroke="#2874c0" stroke-width="5.5"/>
<g clip-path="url(#cc4)"><path d="M242 752 C228 700 236 630 268 560 C296 505 340 465 382 442 C402 520 392 595 334 658 C300 694 280 730 256 756 C250 761 244 759 242 752Z" fill="none" stroke="#2a76c2" stroke-width="13" filter="url(#bl5)"/></g>
<path d="M359.5 570.2 L345.5 589.5 L324.0 599.1 L307.6 582.4 L300.5 559.8 L314.0 539.7 L336.1 530.6 L352.4 547.6Z" fill="#2fa3e6" stroke="none" stroke-width="4"/>
<path d="M398 380 C368 465 382 560 430 625 C460 662 490 692 507 718 C503 620 512 520 484 440 C462 400 425 385 398 380Z" fill="url(#gB)" stroke="#2874c0" stroke-width="5.5"/>
<g clip-path="url(#cc6)"><path d="M398 380 C368 465 382 560 430 625 C460 662 490 692 507 718 C503 620 512 520 484 440 C462 400 425 385 398 380Z" fill="none" stroke="#2a76c2" stroke-width="13" filter="url(#bl5)"/></g>
<path d="M466.0 527.2 L462.6 555.1 L447.9 575.6 L425.1 564.5 L408.0 542.8 L410.6 514.3 L426.0 494.0 L448.9 505.5Z" fill="#2fa3e6" stroke="none" stroke-width="4"/>
<path d="M435 104 C432 184 388 250 392 302 C398 352 455 420 497 482 C501 400 503 320 495 262 C485 205 458 154 435 104Z" fill="url(#gB)" stroke="#2874c0" stroke-width="5.5"/>
<g clip-path="url(#cc5)"><path d="M435 104 C432 184 388 250 392 302 C398 352 455 420 497 482 C501 400 503 320 495 262 C485 205 458 154 435 104Z" fill="none" stroke="#2a76c2" stroke-width="13" filter="url(#bl5)"/></g>
<path d="M479.0 310.0 L467.1 334.1 L445.0 348.9 L423.4 333.5 L411.0 310.0 L422.2 285.1 L445.0 270.8 L466.6 286.5Z" fill="#2fa3e6" stroke="none" stroke-width="4"/>

</g>
<g transform="translate(429.7 358) scale(0.1346)" stroke-linejoin="round">
<path d="M290 320 L420 210 L560 250 L590 400 L515 580 L340 600 L290 470Z" fill="#489cdf"/>
<path d="M555 149 C528 160 490 195 462 262 L522 262 C534 222 548 186 555 149Z" fill="url(#gB)" stroke="#3a7fc0" stroke-width="4"/>
<path d="M603 306 C630 372 608 470 564 532 C546 558 534 586 521 618 C496 560 474 470 486 400 C498 345 560 318 603 306Z" fill="url(#cr_b)" stroke="#3a7fc0" stroke-width="4"/>
<path d="M574.8 419.3 L555.2 443.7 L528.0 454.6 L510.6 431.1 L505.2 400.7 L524.3 375.2 L552.1 364.9 L569.4 388.9Z" fill="#0f9a4c" stroke="none" stroke-width="4"/>
<path d="M688 82 C672 86 650 102 625 132 C590 174 540 206 510 252 C490 286 480 320 474 352 C540 342 600 308 645 255 C688 205 697 142 688 82Z" fill="url(#cr_tr)" stroke="#3a7fc0" stroke-width="4"/>
<path d="M595.4 263.5 L577.5 275.7 L556.2 277.3 L547.6 257.9 L548.6 236.5 L566.4 223.5 L587.9 222.5 L596.4 242.1Z" fill="#eef4fc" stroke="none" stroke-width="4"/>
<path d="M166 384 C195 285 270 172 430 182 C430 240 420 300 400 340 C335 345 240 360 166 384Z" fill="url(#cr_l)" stroke="#3a7fc0" stroke-width="4"/>
<path d="M371.0 256.3 L352.2 274.3 L327.1 280.5 L312.4 259.3 L309.0 233.7 L327.4 214.7 L353.1 209.1 L367.6 230.7Z" fill="#e2b4ea" stroke="none" stroke-width="4"/>
<path d="M83 458 C120 442 150 412 185 385 C240 345 320 312 398 297 C410 340 405 380 392 425 C320 445 240 440 170 460 C130 470 98 474 83 458Z" fill="url(#gB)" stroke="#3a7fc0" stroke-width="4"/>
<path d="M299.4 348.9 L295.7 372.2 L278.3 393.5 L251.2 392.5 L230.6 381.1 L233.3 357.5 L251.6 336.2 L278.8 337.5Z" fill="#d8da30" stroke="none" stroke-width="4"/>
<path d="M120 608 C165 594 195 552 222 505 C250 458 320 405 388 384 C400 430 392 480 360 522 C310 575 240 600 180 614 C150 622 126 622 120 608Z" fill="url(#gB)" stroke="#3a7fc0" stroke-width="4"/>
<path d="M336.0 453.7 L332.1 476.6 L316.1 495.6 L292.0 490.7 L274.0 476.3 L277.0 453.0 L293.8 434.1 L318.0 439.3Z" fill="#d8bcf2" stroke="none" stroke-width="4"/>
<path d="M242 752 C228 700 236 630 268 560 C296 505 340 465 382 442 C402 520 392 595 334 658 C300 694 280 730 256 756 C250 761 244 759 242 752Z" fill="url(#gB)" stroke="#3a7fc0" stroke-width="4"/>
<path d="M359.5 570.2 L345.5 589.5 L324.0 599.1 L307.6 582.4 L300.5 559.8 L314.0 539.7 L336.1 530.6 L352.4 547.6Z" fill="#cde038" stroke="none" stroke-width="4"/>
<path d="M398 380 C368 465 382 560 430 625 C460 662 490 692 507 718 C503 620 512 520 484 440 C462 400 425 385 398 380Z" fill="url(#cr_b)" stroke="#3a7fc0" stroke-width="4"/>
<path d="M466.0 527.2 L462.6 555.1 L447.9 575.6 L425.1 564.5 L408.0 542.8 L410.6 514.3 L426.0 494.0 L448.9 505.5Z" fill="#2cc8c8" stroke="none" stroke-width="4"/>
<path d="M435 104 C432 184 388 250 392 302 C398 352 455 420 497 482 C501 400 503 320 495 262 C485 205 458 154 435 104Z" fill="url(#cr_m)" stroke="#3a7fc0" stroke-width="4"/>
<path d="M479.0 310.0 L467.1 334.1 L445.0 348.9 L423.4 333.5 L411.0 310.0 L422.2 285.1 L445.0 270.8 L466.6 286.5Z" fill="#ffffff" stroke="none" stroke-width="4"/>

</g>
<g transform="translate(430 464.5) scale(0.1346)" stroke-linejoin="round">
<path d="M290 320 L420 210 L560 250 L590 400 L515 580 L340 600 L290 470Z" fill="#489cdf"/>
<path d="M555 149 C528 160 490 195 462 262 L522 262 C534 222 548 186 555 149Z" fill="url(#gB)" stroke="#2a86c8" stroke-width="4"/>
<path d="M603 306 C630 372 608 470 564 532 C546 558 534 586 521 618 C496 560 474 470 486 400 C498 345 560 318 603 306Z" fill="url(#ms_r)" stroke="#2a86c8" stroke-width="4"/>
<path d="M574.8 419.3 L555.2 443.7 L528.0 454.6 L510.6 431.1 L505.2 400.7 L524.3 375.2 L552.1 364.9 L569.4 388.9Z" fill="#f0f0a8" stroke="none" stroke-width="4"/>
<path d="M688 82 C672 86 650 102 625 132 C590 174 540 206 510 252 C490 286 480 320 474 352 C540 342 600 308 645 255 C688 205 697 142 688 82Z" fill="url(#ms_7)" stroke="#2a86c8" stroke-width="4"/>
<path d="M595.4 263.5 L577.5 275.7 L556.2 277.3 L547.6 257.9 L548.6 236.5 L566.4 223.5 L587.9 222.5 L596.4 242.1Z" fill="#8ccc3c" stroke="none" stroke-width="4"/>
<path d="M166 384 C195 285 270 172 430 182 C430 240 420 300 400 340 C335 345 240 360 166 384Z" fill="url(#gB)" stroke="#2a86c8" stroke-width="4"/>
<path d="M371.0 256.3 L352.2 274.3 L327.1 280.5 L312.4 259.3 L309.0 233.7 L327.4 214.7 L353.1 209.1 L367.6 230.7Z" fill="#1a9a5c" stroke="none" stroke-width="4"/>
<path d="M83 458 C120 442 150 412 185 385 C240 345 320 312 398 297 C410 340 405 380 392 425 C320 445 240 440 170 460 C130 470 98 474 83 458Z" fill="url(#ms_u)" stroke="#2a86c8" stroke-width="4"/>
<path d="M299.4 348.9 L295.7 372.2 L278.3 393.5 L251.2 392.5 L230.6 381.1 L233.3 357.5 L251.6 336.2 L278.8 337.5Z" fill="#d4dc3c" stroke="none" stroke-width="4"/>
<path d="M120 608 C165 594 195 552 222 505 C250 458 320 405 388 384 C400 430 392 480 360 522 C310 575 240 600 180 614 C150 622 126 622 120 608Z" fill="url(#ms_d)" stroke="#2a86c8" stroke-width="4"/>
<path d="M336.0 453.7 L332.1 476.6 L316.1 495.6 L292.0 490.7 L274.0 476.3 L277.0 453.0 L293.8 434.1 L318.0 439.3Z" fill="#f0f6cc" stroke="none" stroke-width="4"/>
<path d="M242 752 C228 700 236 630 268 560 C296 505 340 465 382 442 C402 520 392 595 334 658 C300 694 280 730 256 756 C250 761 244 759 242 752Z" fill="url(#ms_d)" stroke="#2a86c8" stroke-width="4"/>
<path d="M359.5 570.2 L345.5 589.5 L324.0 599.1 L307.6 582.4 L300.5 559.8 L314.0 539.7 L336.1 530.6 L352.4 547.6Z" fill="#7cc42c" stroke="none" stroke-width="4"/>
<path d="M398 380 C368 465 382 560 430 625 C460 662 490 692 507 718 C503 620 512 520 484 440 C462 400 425 385 398 380Z" fill="url(#ms_b)" stroke="#2a86c8" stroke-width="4"/>
<path d="M466.0 527.2 L462.6 555.1 L447.9 575.6 L425.1 564.5 L408.0 542.8 L410.6 514.3 L426.0 494.0 L448.9 505.5Z" fill="#dce240" stroke="none" stroke-width="4"/>
<path d="M435 104 C432 184 388 250 392 302 C398 352 455 420 497 482 C501 400 503 320 495 262 C485 205 458 154 435 104Z" fill="url(#ms_t)" stroke="#2a86c8" stroke-width="4"/>
<path d="M479.0 310.0 L467.1 334.1 L445.0 348.9 L423.4 333.5 L411.0 310.0 L422.2 285.1 L445.0 270.8 L466.6 286.5Z" fill="#f4f8dc" stroke="none" stroke-width="4"/>

</g>
<g transform="translate(430 584) scale(0.1346)" stroke-linejoin="round">
<path d="M290 320 L420 210 L560 250 L590 400 L515 580 L340 600 L290 470Z" fill="#489cdf"/>
<path d="M555 149 C528 160 490 195 462 262 L522 262 C534 222 548 186 555 149Z" fill="url(#gB)" stroke="#2874c0" stroke-width="5.5"/>
<g clip-path="url(#cc9)"><path d="M555 149 C528 160 490 195 462 262 L522 262 C534 222 548 186 555 149Z" fill="none" stroke="#2a76c2" stroke-width="13" filter="url(#bl5)"/></g>
<path d="M603 306 C630 372 608 470 564 532 C546 558 534 586 521 618 C496 560 474 470 486 400 C498 345 560 318 603 306Z" fill="url(#gB)" stroke="#2874c0" stroke-width="5.5"/>
<g clip-path="url(#cc8)"><path d="M603 306 C630 372 608 470 564 532 C546 558 534 586 521 618 C496 560 474 470 486 400 C498 345 560 318 603 306Z" fill="none" stroke="#2a76c2" stroke-width="13" filter="url(#bl5)"/></g>
<path d="M574.8 419.3 L555.2 443.7 L528.0 454.6 L510.6 431.1 L505.2 400.7 L524.3 375.2 L552.1 364.9 L569.4 388.9Z" fill="#bcd6f4" stroke="none" stroke-width="4"/>
<path d="M688 82 C672 86 650 102 625 132 C590 174 540 206 510 252 C490 286 480 320 474 352 C540 342 600 308 645 255 C688 205 697 142 688 82Z" fill="url(#gB)" stroke="#2874c0" stroke-width="5.5"/>
<g clip-path="url(#cc7)"><path d="M688 82 C672 86 650 102 625 132 C590 174 540 206 510 252 C490 286 480 320 474 352 C540 342 600 308 645 255 C688 205 697 142 688 82Z" fill="none" stroke="#2a76c2" stroke-width="13" filter="url(#bl5)"/></g>
<path d="M595.4 263.5 L577.5 275.7 L556.2 277.3 L547.6 257.9 L548.6 236.5 L566.4 223.5 L587.9 222.5 L596.4 242.1Z" fill="#bcd6f4" stroke="none" stroke-width="4"/>
<path d="M166 384 C195 285 270 172 430 182 C430 240 420 300 400 340 C335 345 240 360 166 384Z" fill="url(#gB)" stroke="#2874c0" stroke-width="5.5"/>
<g clip-path="url(#cc1)"><path d="M166 384 C195 285 270 172 430 182 C430 240 420 300 400 340 C335 345 240 360 166 384Z" fill="none" stroke="#2a76c2" stroke-width="13" filter="url(#bl5)"/></g>
<path d="M371.0 256.3 L352.2 274.3 L327.1 280.5 L312.4 259.3 L309.0 233.7 L327.4 214.7 L353.1 209.1 L367.6 230.7Z" fill="#bcd6f4" stroke="none" stroke-width="4"/>
<path d="M83 458 C120 442 150 412 185 385 C240 345 320 312 398 297 C410 340 405 380 392 425 C320 445 240 440 170 460 C130 470 98 474 83 458Z" fill="url(#gB)" stroke="#2874c0" stroke-width="5.5"/>
<g clip-path="url(#cc2)"><path d="M83 458 C120 442 150 412 185 385 C240 345 320 312 398 297 C410 340 405 380 392 425 C320 445 240 440 170 460 C130 470 98 474 83 458Z" fill="none" stroke="#2a76c2" stroke-width="13" filter="url(#bl5)"/></g>
<path d="M299.4 348.9 L295.7 372.2 L278.3 393.5 L251.2 392.5 L230.6 381.1 L233.3 357.5 L251.6 336.2 L278.8 337.5Z" fill="#bcd6f4" stroke="none" stroke-width="4"/>
<path d="M120 608 C165 594 195 552 222 505 C250 458 320 405 388 384 C400 430 392 480 360 522 C310 575 240 600 180 614 C150 622 126 622 120 608Z" fill="url(#gB)" stroke="#2874c0" stroke-width="5.5"/>
<g clip-path="url(#cc3)"><path d="M120 608 C165 594 195 552 222 505 C250 458 320 405 388 384 C400 430 392 480 360 522 C310 575 240 600 180 614 C150 622 126 622 120 608Z" fill="none" stroke="#2a76c2" stroke-width="13" filter="url(#bl5)"/></g>
<path d="M336.0 453.7 L332.1 476.6 L316.1 495.6 L292.0 490.7 L274.0 476.3 L277.0 453.0 L293.8 434.1 L318.0 439.3Z" fill="#bcd6f4" stroke="none" stroke-width="4"/>
<path d="M242 752 C228 700 236 630 268 560 C296 505 340 465 382 442 C402 520 392 595 334 658 C300 694 280 730 256 756 C250 761 244 759 242 752Z" fill="url(#gB)" stroke="#2874c0" stroke-width="5.5"/>
<g clip-path="url(#cc4)"><path d="M242 752 C228 700 236 630 268 560 C296 505 340 465 382 442 C402 520 392 595 334 658 C300 694 280 730 256 756 C250 761 244 759 242 752Z" fill="none" stroke="#2a76c2" stroke-width="13" filter="url(#bl5)"/></g>
<path d="M359.5 570.2 L345.5 589.5 L324.0 599.1 L307.6 582.4 L300.5 559.8 L314.0 539.7 L336.1 530.6 L352.4 547.6Z" fill="#bcd6f4" stroke="none" stroke-width="4"/>
<path d="M398 380 C368 465 382 560 430 625 C460 662 490 692 507 718 C503 620 512 520 484 440 C462 400 425 385 398 380Z" fill="url(#gB)" stroke="#2874c0" stroke-width="5.5"/>
<g clip-path="url(#cc6)"><path d="M398 380 C368 465 382 560 430 625 C460 662 490 692 507 718 C503 620 512 520 484 440 C462 400 425 385 398 380Z" fill="none" stroke="#2a76c2" stroke-width="13" filter="url(#bl5)"/></g>
<path d="M466.0 527.2 L462.6 555.1 L447.9 575.6 L425.1 564.5 L408.0 542.8 L410.6 514.3 L426.0 494.0 L448.9 505.5Z" fill="#bcd6f4" stroke="none" stroke-width="4"/>
<path d="M435 104 C432 184 388 250 392 302 C398 352 455 420 497 482 C501 400 503 320 495 262 C485 205 458 154 435 104Z" fill="url(#gY)" stroke="#dca21e" stroke-width="5.5"/>
<g clip-path="url(#cc5)"><path d="M435 104 C432 184 388 250 392 302 C398 352 455 420 497 482 C501 400 503 320 495 262 C485 205 458 154 435 104Z" fill="none" stroke="#e8a828" stroke-width="10" filter="url(#bl5)"/></g>
<path d="M479.0 310.0 L467.1 334.1 L445.0 348.9 L423.4 333.5 L411.0 310.0 L422.2 285.1 L445.0 270.8 L466.6 286.5Z" fill="#ea4e26" stroke="none" stroke-width="4"/>

</g>
<g transform="translate(430 690) scale(0.1346)" stroke-linejoin="round">
<path d="M290 320 L420 210 L560 250 L590 400 L515 580 L340 600 L290 470Z" fill="#489cdf"/>
<path d="M555 149 C528 160 490 195 462 262 L522 262 C534 222 548 186 555 149Z" fill="url(#gB)" stroke="#2874c0" stroke-width="5.5"/>
<g clip-path="url(#cc9)"><path d="M555 149 C528 160 490 195 462 262 L522 262 C534 222 548 186 555 149Z" fill="none" stroke="#2a76c2" stroke-width="13" filter="url(#bl5)"/></g>
<path d="M603 306 C630 372 608 470 564 532 C546 558 534 586 521 618 C496 560 474 470 486 400 C498 345 560 318 603 306Z" fill="url(#gB)" stroke="#2874c0" stroke-width="5.5"/>
<g clip-path="url(#cc8)"><path d="M603 306 C630 372 608 470 564 532 C546 558 534 586 521 618 C496 560 474 470 486 400 C498 345 560 318 603 306Z" fill="none" stroke="#2a76c2" stroke-width="13" filter="url(#bl5)"/></g>
<path d="M574.8 419.3 L555.2 443.7 L528.0 454.6 L510.6 431.1 L505.2 400.7 L524.3 375.2 L552.1 364.9 L569.4 388.9Z" fill="#b6d0f2" stroke="none" stroke-width="4"/>
<path d="M688 82 C672 86 650 102 625 132 C590 174 540 206 510 252 C490 286 480 320 474 352 C540 342 600 308 645 255 C688 205 697 142 688 82Z" fill="url(#gB)" stroke="#2874c0" stroke-width="5.5"/>
<g clip-path="url(#cc7)"><path d="M688 82 C672 86 650 102 625 132 C590 174 540 206 510 252 C490 286 480 320 474 352 C540 342 600 308 645 255 C688 205 697 142 688 82Z" fill="none" stroke="#2a76c2" stroke-width="13" filter="url(#bl5)"/></g>
<path d="M595.4 263.5 L577.5 275.7 L556.2 277.3 L547.6 257.9 L548.6 236.5 L566.4 223.5 L587.9 222.5 L596.4 242.1Z" fill="#b6d0f2" stroke="none" stroke-width="4"/>
<path d="M166 384 C195 285 270 172 430 182 C430 240 420 300 400 340 C335 345 240 360 166 384Z" fill="url(#gB)" stroke="#2874c0" stroke-width="5.5"/>
<g clip-path="url(#cc1)"><path d="M166 384 C195 285 270 172 430 182 C430 240 420 300 400 340 C335 345 240 360 166 384Z" fill="none" stroke="#2a76c2" stroke-width="13" filter="url(#bl5)"/></g>
<path d="M371.0 256.3 L352.2 274.3 L327.1 280.5 L312.4 259.3 L309.0 233.7 L327.4 214.7 L353.1 209.1 L367.6 230.7Z" fill="#b6d0f2" stroke="none" stroke-width="4"/>
<path d="M83 458 C120 442 150 412 185 385 C240 345 320 312 398 297 C410 340 405 380 392 425 C320 445 240 440 170 460 C130 470 98 474 83 458Z" fill="url(#gB)" stroke="#2874c0" stroke-width="5.5"/>
<g clip-path="url(#cc2)"><path d="M83 458 C120 442 150 412 185 385 C240 345 320 312 398 297 C410 340 405 380 392 425 C320 445 240 440 170 460 C130 470 98 474 83 458Z" fill="none" stroke="#2a76c2" stroke-width="13" filter="url(#bl5)"/></g>
<path d="M299.4 348.9 L295.7 372.2 L278.3 393.5 L251.2 392.5 L230.6 381.1 L233.3 357.5 L251.6 336.2 L278.8 337.5Z" fill="#b6d0f2" stroke="none" stroke-width="4"/>
<path d="M120 608 C165 594 195 552 222 505 C250 458 320 405 388 384 C400 430 392 480 360 522 C310 575 240 600 180 614 C150 622 126 622 120 608Z" fill="url(#gB)" stroke="#2874c0" stroke-width="5.5"/>
<g clip-path="url(#cc3)"><path d="M120 608 C165 594 195 552 222 505 C250 458 320 405 388 384 C400 430 392 480 360 522 C310 575 240 600 180 614 C150 622 126 622 120 608Z" fill="none" stroke="#2a76c2" stroke-width="13" filter="url(#bl5)"/></g>
<path d="M336.0 453.7 L332.1 476.6 L316.1 495.6 L292.0 490.7 L274.0 476.3 L277.0 453.0 L293.8 434.1 L318.0 439.3Z" fill="#b6d0f2" stroke="none" stroke-width="4"/>
<path d="M242 752 C228 700 236 630 268 560 C296 505 340 465 382 442 C402 520 392 595 334 658 C300 694 280 730 256 756 C250 761 244 759 242 752Z" fill="url(#gB)" stroke="#2874c0" stroke-width="5.5"/>
<g clip-path="url(#cc4)"><path d="M242 752 C228 700 236 630 268 560 C296 505 340 465 382 442 C402 520 392 595 334 658 C300 694 280 730 256 756 C250 761 244 759 242 752Z" fill="none" stroke="#2a76c2" stroke-width="13" filter="url(#bl5)"/></g>
<path d="M359.5 570.2 L345.5 589.5 L324.0 599.1 L307.6 582.4 L300.5 559.8 L314.0 539.7 L336.1 530.6 L352.4 547.6Z" fill="#b6d0f2" stroke="none" stroke-width="4"/>
<path d="M398 380 C368 465 382 560 430 625 C460 662 490 692 507 718 C503 620 512 520 484 440 C462 400 425 385 398 380Z" fill="url(#gB)" stroke="#2874c0" stroke-width="5.5"/>
<g clip-path="url(#cc6)"><path d="M398 380 C368 465 382 560 430 625 C460 662 490 692 507 718 C503 620 512 520 484 440 C462 400 425 385 398 380Z" fill="none" stroke="#2a76c2" stroke-width="13" filter="url(#bl5)"/></g>
<path d="M466.0 527.2 L462.6 555.1 L447.9 575.6 L425.1 564.5 L408.0 542.8 L410.6 514.3 L426.0 494.0 L448.9 505.5Z" fill="#b6d0f2" stroke="none" stroke-width="4"/>
<path d="M435 104 C432 184 388 250 392 302 C398 352 455 420 497 482 C501 400 503 320 495 262 C485 205 458 154 435 104Z" fill="url(#gB)" stroke="#2874c0" stroke-width="5.5"/>
<g clip-path="url(#cc5)"><path d="M435 104 C432 184 388 250 392 302 C398 352 455 420 497 482 C501 400 503 320 495 262 C485 205 458 154 435 104Z" fill="none" stroke="#2a76c2" stroke-width="13" filter="url(#bl5)"/></g>
<path d="M479.0 310.0 L467.1 334.1 L445.0 348.9 L423.4 333.5 L411.0 310.0 L422.2 285.1 L445.0 270.8 L466.6 286.5Z" fill="#b6d0f2" stroke="none" stroke-width="4"/>

</g>
<g transform="translate(830.5 358.6) scale(0.1346)" stroke-linejoin="round">
<path d="M290 320 L420 210 L560 250 L590 400 L515 580 L340 600 L290 470Z" fill="#b4553c"/>
<path d="M555 149 C528 160 490 195 462 262 L522 262 C534 222 548 186 555 149Z" fill="url(#co1)" stroke="#5a70b0" stroke-width="5"/>
<g clip-path="url(#cc9)"><path d="M555 149 C528 160 490 195 462 262 L522 262 C534 222 548 186 555 149Z" fill="none" stroke="#8098e0" stroke-width="16" filter="url(#bl5)"/></g>
<path d="M603 306 C630 372 608 470 564 532 C546 558 534 586 521 618 C496 560 474 470 486 400 C498 345 560 318 603 306Z" fill="url(#co1)" stroke="#5a70b0" stroke-width="5"/>
<g clip-path="url(#cc8)"><path d="M603 306 C630 372 608 470 564 532 C546 558 534 586 521 618 C496 560 474 470 486 400 C498 345 560 318 603 306Z" fill="none" stroke="#8098e0" stroke-width="16" filter="url(#bl5)"/></g>
<g clip-path="url(#cc8)"><ellipse cx="540" cy="410" rx="72" ry="88" fill="url(#hLil)" transform="rotate(15 540 410)"/></g>
<path d="M574.8 419.3 L555.2 443.7 L528.0 454.6 L510.6 431.1 L505.2 400.7 L524.3 375.2 L552.1 364.9 L569.4 388.9Z" fill="#eaf4ff" stroke="#5a7ed0" stroke-width="4"/>
<path d="M688 82 C672 86 650 102 625 132 C590 174 540 206 510 252 C490 286 480 320 474 352 C540 342 600 308 645 255 C688 205 697 142 688 82Z" fill="url(#co1)" stroke="#5a70b0" stroke-width="5"/>
<g clip-path="url(#cc7)"><path d="M688 82 C672 86 650 102 625 132 C590 174 540 206 510 252 C490 286 480 320 474 352 C540 342 600 308 645 255 C688 205 697 142 688 82Z" fill="none" stroke="#8098e0" stroke-width="16" filter="url(#bl5)"/></g>
<g clip-path="url(#cc7)"><ellipse cx="572" cy="250" rx="54" ry="60" fill="url(#hLil)" transform="rotate(30 572 250)"/></g>
<path d="M595.4 263.5 L577.5 275.7 L556.2 277.3 L547.6 257.9 L548.6 236.5 L566.4 223.5 L587.9 222.5 L596.4 242.1Z" fill="#ffffff" stroke="#5a7ed0" stroke-width="4"/>
<path d="M166 384 C195 285 270 172 430 182 C430 240 420 300 400 340 C335 345 240 360 166 384Z" fill="url(#co1)" stroke="#5a70b0" stroke-width="5"/>
<g clip-path="url(#cc1)"><path d="M166 384 C195 285 270 172 430 182 C430 240 420 300 400 340 C335 345 240 360 166 384Z" fill="none" stroke="#8098e0" stroke-width="16" filter="url(#bl5)"/></g>
<g clip-path="url(#cc1)"><ellipse cx="340" cy="245" rx="66" ry="72" fill="url(#hLil)" transform="rotate(20 340 245)"/></g>
<path d="M371.0 256.3 L352.2 274.3 L327.1 280.5 L312.4 259.3 L309.0 233.7 L327.4 214.7 L353.1 209.1 L367.6 230.7Z" fill="#ffffff" stroke="#5a7ed0" stroke-width="4"/>
<path d="M83 458 C120 442 150 412 185 385 C240 345 320 312 398 297 C410 340 405 380 392 425 C320 445 240 440 170 460 C130 470 98 474 83 458Z" fill="url(#co1)" stroke="#5a70b0" stroke-width="5"/>
<g clip-path="url(#cc2)"><path d="M83 458 C120 442 150 412 185 385 C240 345 320 312 398 297 C410 340 405 380 392 425 C320 445 240 440 170 460 C130 470 98 474 83 458Z" fill="none" stroke="#8098e0" stroke-width="16" filter="url(#bl5)"/></g>
<g clip-path="url(#cc2)"><ellipse cx="265" cy="365" rx="76" ry="60" fill="url(#hLil)" transform="rotate(-25 265 365)"/></g>
<path d="M299.4 348.9 L295.7 372.2 L278.3 393.5 L251.2 392.5 L230.6 381.1 L233.3 357.5 L251.6 336.2 L278.8 337.5Z" fill="#e6f2ff" stroke="#5a7ed0" stroke-width="4"/>
<path d="M120 608 C165 594 195 552 222 505 C250 458 320 405 388 384 C400 430 392 480 360 522 C310 575 240 600 180 614 C150 622 126 622 120 608Z" fill="url(#co1)" stroke="#5a70b0" stroke-width="5"/>
<g clip-path="url(#cc3)"><path d="M120 608 C165 594 195 552 222 505 C250 458 320 405 388 384 C400 430 392 480 360 522 C310 575 240 600 180 614 C150 622 126 622 120 608Z" fill="none" stroke="#8098e0" stroke-width="16" filter="url(#bl5)"/></g>
<g clip-path="url(#cc3)"><ellipse cx="305" cy="465" rx="66" ry="62" fill="url(#hLil)" transform="rotate(-20 305 465)"/></g>
<path d="M336.0 453.7 L332.1 476.6 L316.1 495.6 L292.0 490.7 L274.0 476.3 L277.0 453.0 L293.8 434.1 L318.0 439.3Z" fill="#c4a4ec" stroke="#5a7ed0" stroke-width="4"/>
<path d="M242 752 C228 700 236 630 268 560 C296 505 340 465 382 442 C402 520 392 595 334 658 C300 694 280 730 256 756 C250 761 244 759 242 752Z" fill="url(#co1)" stroke="#5a70b0" stroke-width="5"/>
<g clip-path="url(#cc4)"><path d="M242 752 C228 700 236 630 268 560 C296 505 340 465 382 442 C402 520 392 595 334 658 C300 694 280 730 256 756 C250 761 244 759 242 752Z" fill="none" stroke="#8098e0" stroke-width="16" filter="url(#bl5)"/></g>
<g clip-path="url(#cc4)"><ellipse cx="330" cy="565" rx="60" ry="66" fill="url(#hLil)" transform="rotate(10 330 565)"/></g>
<path d="M359.5 570.2 L345.5 589.5 L324.0 599.1 L307.6 582.4 L300.5 559.8 L314.0 539.7 L336.1 530.6 L352.4 547.6Z" fill="#eaf4ff" stroke="#5a7ed0" stroke-width="4"/>
<path d="M398 380 C368 465 382 560 430 625 C460 662 490 692 507 718 C503 620 512 520 484 440 C462 400 425 385 398 380Z" fill="url(#co1)" stroke="#5a70b0" stroke-width="5"/>
<g clip-path="url(#cc6)"><path d="M398 380 C368 465 382 560 430 625 C460 662 490 692 507 718 C503 620 512 520 484 440 C462 400 425 385 398 380Z" fill="none" stroke="#8098e0" stroke-width="16" filter="url(#bl5)"/></g>
<g clip-path="url(#cc6)"><ellipse cx="437" cy="535" rx="60" ry="80" fill="url(#hLil)" transform="rotate(-15 437 535)"/></g>
<path d="M466.0 527.2 L462.6 555.1 L447.9 575.6 L425.1 564.5 L408.0 542.8 L410.6 514.3 L426.0 494.0 L448.9 505.5Z" fill="#c8a4f0" stroke="#5a7ed0" stroke-width="4"/>
<path d="M435 104 C432 184 388 250 392 302 C398 352 455 420 497 482 C501 400 503 320 495 262 C485 205 458 154 435 104Z" fill="url(#co1)" stroke="#5a70b0" stroke-width="5"/>
<g clip-path="url(#cc5)"><path d="M435 104 C432 184 388 250 392 302 C398 352 455 420 497 482 C501 400 503 320 495 262 C485 205 458 154 435 104Z" fill="none" stroke="#8098e0" stroke-width="16" filter="url(#bl5)"/></g>
<g clip-path="url(#cc5)"><ellipse cx="445" cy="310" rx="68" ry="74" fill="url(#hLil)" transform="rotate(0 445 310)"/></g>
<path d="M479.0 310.0 L467.1 334.1 L445.0 348.9 L423.4 333.5 L411.0 310.0 L422.2 285.1 L445.0 270.8 L466.6 286.5Z" fill="#b498ec" stroke="#5a7ed0" stroke-width="4"/>

</g>
<g transform="translate(984.2 358.6) scale(0.1346)" stroke-linejoin="round">
<path d="M290 320 L420 210 L560 250 L590 400 L515 580 L340 600 L290 470Z" fill="#d8472c"/>
<path d="M555 149 C528 160 490 195 462 262 L522 262 C534 222 548 186 555 149Z" fill="url(#co2)" stroke="#3c5a8c" stroke-width="5"/>
<path d="M603 306 C630 372 608 470 564 532 C546 558 534 586 521 618 C496 560 474 470 486 400 C498 345 560 318 603 306Z" fill="url(#co2)" stroke="#3c5a8c" stroke-width="5"/>
<path d="M574.8 419.3 L555.2 443.7 L528.0 454.6 L510.6 431.1 L505.2 400.7 L524.3 375.2 L552.1 364.9 L569.4 388.9Z" fill="#f2a4a0" stroke="#5a5a6a" stroke-width="4"/>
<path d="M688 82 C672 86 650 102 625 132 C590 174 540 206 510 252 C490 286 480 320 474 352 C540 342 600 308 645 255 C688 205 697 142 688 82Z" fill="url(#co2)" stroke="#3c5a8c" stroke-width="5"/>
<path d="M595.4 263.5 L577.5 275.7 L556.2 277.3 L547.6 257.9 L548.6 236.5 L566.4 223.5 L587.9 222.5 L596.4 242.1Z" fill="#f6b4b0" stroke="#5a5a6a" stroke-width="4"/>
<path d="M166 384 C195 285 270 172 430 182 C430 240 420 300 400 340 C335 345 240 360 166 384Z" fill="url(#co2)" stroke="#3c5a8c" stroke-width="5"/>
<path d="M371.0 256.3 L352.2 274.3 L327.1 280.5 L312.4 259.3 L309.0 233.7 L327.4 214.7 L353.1 209.1 L367.6 230.7Z" fill="#f2a4a0" stroke="#5a5a6a" stroke-width="4"/>
<path d="M83 458 C120 442 150 412 185 385 C240 345 320 312 398 297 C410 340 405 380 392 425 C320 445 240 440 170 460 C130 470 98 474 83 458Z" fill="url(#co2)" stroke="#3c5a8c" stroke-width="5"/>
<path d="M299.4 348.9 L295.7 372.2 L278.3 393.5 L251.2 392.5 L230.6 381.1 L233.3 357.5 L251.6 336.2 L278.8 337.5Z" fill="#c8de30" stroke="#5a5a6a" stroke-width="4"/>
<path d="M120 608 C165 594 195 552 222 505 C250 458 320 405 388 384 C400 430 392 480 360 522 C310 575 240 600 180 614 C150 622 126 622 120 608Z" fill="url(#co2)" stroke="#3c5a8c" stroke-width="5"/>
<path d="M336.0 453.7 L332.1 476.6 L316.1 495.6 L292.0 490.7 L274.0 476.3 L277.0 453.0 L293.8 434.1 L318.0 439.3Z" fill="#f2a4a0" stroke="#5a5a6a" stroke-width="4"/>
<path d="M242 752 C228 700 236 630 268 560 C296 505 340 465 382 442 C402 520 392 595 334 658 C300 694 280 730 256 756 C250 761 244 759 242 752Z" fill="url(#co2)" stroke="#3c5a8c" stroke-width="5"/>
<path d="M359.5 570.2 L345.5 589.5 L324.0 599.1 L307.6 582.4 L300.5 559.8 L314.0 539.7 L336.1 530.6 L352.4 547.6Z" fill="#c8de30" stroke="#5a5a6a" stroke-width="4"/>
<path d="M398 380 C368 465 382 560 430 625 C460 662 490 692 507 718 C503 620 512 520 484 440 C462 400 425 385 398 380Z" fill="url(#co2)" stroke="#3c5a8c" stroke-width="5"/>
<path d="M466.0 527.2 L462.6 555.1 L447.9 575.6 L425.1 564.5 L408.0 542.8 L410.6 514.3 L426.0 494.0 L448.9 505.5Z" fill="#f2a4a0" stroke="#5a5a6a" stroke-width="4"/>
<path d="M435 104 C432 184 388 250 392 302 C398 352 455 420 497 482 C501 400 503 320 495 262 C485 205 458 154 435 104Z" fill="url(#co2)" stroke="#3c5a8c" stroke-width="5"/>
<path d="M479.0 310.0 L467.1 334.1 L445.0 348.9 L423.4 333.5 L411.0 310.0 L422.2 285.1 L445.0 270.8 L466.6 286.5Z" fill="#c8de30" stroke="#5a5a6a" stroke-width="4"/>

</g>
<g transform="translate(830.5 464.1) scale(0.1346)" stroke-linejoin="round">
<path d="M290 320 L420 210 L560 250 L590 400 L515 580 L340 600 L290 470Z" fill="#2a8ed8"/>
<path d="M555 149 C528 160 490 195 462 262 L522 262 C534 222 548 186 555 149Z" fill="#bcd93c" stroke="#1f86d6" stroke-width="5"/>
<g clip-path="url(#cc9)"><path d="M555 149 C528 160 490 195 462 262 L522 262 C534 222 548 186 555 149Z" fill="none" stroke="#1f86d6" stroke-width="54" filter="url(#bl9)"/></g>
<path d="M603 306 C630 372 608 470 564 532 C546 558 534 586 521 618 C496 560 474 470 486 400 C498 345 560 318 603 306Z" fill="#bcd93c" stroke="#1f86d6" stroke-width="5"/>
<g clip-path="url(#cc8)"><path d="M603 306 C630 372 608 470 564 532 C546 558 534 586 521 618 C496 560 474 470 486 400 C498 345 560 318 603 306Z" fill="none" stroke="#1f86d6" stroke-width="54" filter="url(#bl9)"/></g>
<path d="M574.8 419.3 L555.2 443.7 L528.0 454.6 L510.6 431.1 L505.2 400.7 L524.3 375.2 L552.1 364.9 L569.4 388.9Z" fill="#e2eca4" stroke="#4a8a2a" stroke-width="4"/>
<path d="M688 82 C672 86 650 102 625 132 C590 174 540 206 510 252 C490 286 480 320 474 352 C540 342 600 308 645 255 C688 205 697 142 688 82Z" fill="#bcd93c" stroke="#1f86d6" stroke-width="5"/>
<g clip-path="url(#cc7)"><path d="M688 82 C672 86 650 102 625 132 C590 174 540 206 510 252 C490 286 480 320 474 352 C540 342 600 308 645 255 C688 205 697 142 688 82Z" fill="none" stroke="#1f86d6" stroke-width="54" filter="url(#bl9)"/></g>
<path d="M595.4 263.5 L577.5 275.7 L556.2 277.3 L547.6 257.9 L548.6 236.5 L566.4 223.5 L587.9 222.5 L596.4 242.1Z" fill="#5ab030" stroke="#4a8a2a" stroke-width="4"/>
<path d="M166 384 C195 285 270 172 430 182 C430 240 420 300 400 340 C335 345 240 360 166 384Z" fill="#bcd93c" stroke="#1f86d6" stroke-width="5"/>
<g clip-path="url(#cc1)"><path d="M166 384 C195 285 270 172 430 182 C430 240 420 300 400 340 C335 345 240 360 166 384Z" fill="none" stroke="#1f86d6" stroke-width="54" filter="url(#bl9)"/></g>
<path d="M371.0 256.3 L352.2 274.3 L327.1 280.5 L312.4 259.3 L309.0 233.7 L327.4 214.7 L353.1 209.1 L367.6 230.7Z" fill="#2a9a3a" stroke="#4a8a2a" stroke-width="4"/>
<path d="M83 458 C120 442 150 412 185 385 C240 345 320 312 398 297 C410 340 405 380 392 425 C320 445 240 440 170 460 C130 470 98 474 83 458Z" fill="#bcd93c" stroke="#1f86d6" stroke-width="5"/>
<g clip-path="url(#cc2)"><path d="M83 458 C120 442 150 412 185 385 C240 345 320 312 398 297 C410 340 405 380 392 425 C320 445 240 440 170 460 C130 470 98 474 83 458Z" fill="none" stroke="#1f86d6" stroke-width="54" filter="url(#bl9)"/></g>
<path d="M299.4 348.9 L295.7 372.2 L278.3 393.5 L251.2 392.5 L230.6 381.1 L233.3 357.5 L251.6 336.2 L278.8 337.5Z" fill="#c8d83a" stroke="#4a8a2a" stroke-width="4"/>
<path d="M120 608 C165 594 195 552 222 505 C250 458 320 405 388 384 C400 430 392 480 360 522 C310 575 240 600 180 614 C150 622 126 622 120 608Z" fill="#bcd93c" stroke="#1f86d6" stroke-width="5"/>
<g clip-path="url(#cc3)"><path d="M120 608 C165 594 195 552 222 505 C250 458 320 405 388 384 C400 430 392 480 360 522 C310 575 240 600 180 614 C150 622 126 622 120 608Z" fill="none" stroke="#1f86d6" stroke-width="54" filter="url(#bl9)"/></g>
<path d="M336.0 453.7 L332.1 476.6 L316.1 495.6 L292.0 490.7 L274.0 476.3 L277.0 453.0 L293.8 434.1 L318.0 439.3Z" fill="#f2f8d4" stroke="#4a8a2a" stroke-width="4"/>
<path d="M242 752 C228 700 236 630 268 560 C296 505 340 465 382 442 C402 520 392 595 334 658 C300 694 280 730 256 756 C250 761 244 759 242 752Z" fill="#bcd93c" stroke="#1f86d6" stroke-width="5"/>
<g clip-path="url(#cc4)"><path d="M242 752 C228 700 236 630 268 560 C296 505 340 465 382 442 C402 520 392 595 334 658 C300 694 280 730 256 756 C250 761 244 759 242 752Z" fill="none" stroke="#1f86d6" stroke-width="54" filter="url(#bl9)"/></g>
<path d="M359.5 570.2 L345.5 589.5 L324.0 599.1 L307.6 582.4 L300.5 559.8 L314.0 539.7 L336.1 530.6 L352.4 547.6Z" fill="#3aa02a" stroke="#4a8a2a" stroke-width="4"/>
<path d="M398 380 C368 465 382 560 430 625 C460 662 490 692 507 718 C503 620 512 520 484 440 C462 400 425 385 398 380Z" fill="#bcd93c" stroke="#1f86d6" stroke-width="5"/>
<g clip-path="url(#cc6)"><path d="M398 380 C368 465 382 560 430 625 C460 662 490 692 507 718 C503 620 512 520 484 440 C462 400 425 385 398 380Z" fill="none" stroke="#1f86d6" stroke-width="54" filter="url(#bl9)"/></g>
<path d="M466.0 527.2 L462.6 555.1 L447.9 575.6 L425.1 564.5 L408.0 542.8 L410.6 514.3 L426.0 494.0 L448.9 505.5Z" fill="#a8cc30" stroke="#4a8a2a" stroke-width="4"/>
<path d="M435 104 C432 184 388 250 392 302 C398 352 455 420 497 482 C501 400 503 320 495 262 C485 205 458 154 435 104Z" fill="#bcd93c" stroke="#1f86d6" stroke-width="5"/>
<g clip-path="url(#cc5)"><path d="M435 104 C432 184 388 250 392 302 C398 352 455 420 497 482 C501 400 503 320 495 262 C485 205 458 154 435 104Z" fill="none" stroke="#1f86d6" stroke-width="54" filter="url(#bl9)"/></g>
<path d="M479.0 310.0 L467.1 334.1 L445.0 348.9 L423.4 333.5 L411.0 310.0 L422.2 285.1 L445.0 270.8 L466.6 286.5Z" fill="#f2f8c4" stroke="#4a8a2a" stroke-width="4"/>

</g>
<g transform="translate(984.2 465.8) scale(0.1346)" stroke-linejoin="round">
<path d="M290 320 L420 210 L560 250 L590 400 L515 580 L340 600 L290 470Z" fill="#2a8ed8"/>
<path d="M555 149 C528 160 490 195 462 262 L522 262 C534 222 548 186 555 149Z" fill="#b8d840" stroke="#3a7a4a" stroke-width="4"/>
<path d="M603 306 C630 372 608 470 564 532 C546 558 534 586 521 618 C496 560 474 470 486 400 C498 345 560 318 603 306Z" fill="url(#mo2_tip_b)" stroke="#3a7a4a" stroke-width="4"/>
<path d="M574.8 419.3 L555.2 443.7 L528.0 454.6 L510.6 431.1 L505.2 400.7 L524.3 375.2 L552.1 364.9 L569.4 388.9Z" fill="#1a9a4a" stroke="#3a7a3a" stroke-width="4"/>
<path d="M688 82 C672 86 650 102 625 132 C590 174 540 206 510 252 C490 286 480 320 474 352 C540 342 600 308 645 255 C688 205 697 142 688 82Z" fill="url(#mo2_tip_t)" stroke="#3a7a4a" stroke-width="4"/>
<path d="M595.4 263.5 L577.5 275.7 L556.2 277.3 L547.6 257.9 L548.6 236.5 L566.4 223.5 L587.9 222.5 L596.4 242.1Z" fill="#8cc83c" stroke="#3a7a3a" stroke-width="4"/>
<path d="M166 384 C195 285 270 172 430 182 C430 240 420 300 400 340 C335 345 240 360 166 384Z" fill="url(#gB2)" stroke="#3a7a4a" stroke-width="4"/>
<path d="M371.0 256.3 L352.2 274.3 L327.1 280.5 L312.4 259.3 L309.0 233.7 L327.4 214.7 L353.1 209.1 L367.6 230.7Z" fill="#a8d040" stroke="#3a7a3a" stroke-width="4"/>
<path d="M83 458 C120 442 150 412 185 385 C240 345 320 312 398 297 C410 340 405 380 392 425 C320 445 240 440 170 460 C130 470 98 474 83 458Z" fill="url(#mo2_tip_l)" stroke="#3a7a4a" stroke-width="4"/>
<path d="M299.4 348.9 L295.7 372.2 L278.3 393.5 L251.2 392.5 L230.6 381.1 L233.3 357.5 L251.6 336.2 L278.8 337.5Z" fill="#c8dc40" stroke="#3a7a3a" stroke-width="4"/>
<path d="M120 608 C165 594 195 552 222 505 C250 458 320 405 388 384 C400 430 392 480 360 522 C310 575 240 600 180 614 C150 622 126 622 120 608Z" fill="url(#mo2_tip_l)" stroke="#3a7a4a" stroke-width="4"/>
<path d="M336.0 453.7 L332.1 476.6 L316.1 495.6 L292.0 490.7 L274.0 476.3 L277.0 453.0 L293.8 434.1 L318.0 439.3Z" fill="#4aa4d8" stroke="#3a7a3a" stroke-width="4"/>
<path d="M242 752 C228 700 236 630 268 560 C296 505 340 465 382 442 C402 520 392 595 334 658 C300 694 280 730 256 756 C250 761 244 759 242 752Z" fill="url(#mo2_tip_b)" stroke="#3a7a4a" stroke-width="4"/>
<path d="M359.5 570.2 L345.5 589.5 L324.0 599.1 L307.6 582.4 L300.5 559.8 L314.0 539.7 L336.1 530.6 L352.4 547.6Z" fill="#8cc83c" stroke="#3a7a3a" stroke-width="4"/>
<path d="M398 380 C368 465 382 560 430 625 C460 662 490 692 507 718 C503 620 512 520 484 440 C462 400 425 385 398 380Z" fill="url(#mo2_tip_b)" stroke="#3a7a4a" stroke-width="4"/>
<path d="M466.0 527.2 L462.6 555.1 L447.9 575.6 L425.1 564.5 L408.0 542.8 L410.6 514.3 L426.0 494.0 L448.9 505.5Z" fill="#f4f8e4" stroke="#3a7a3a" stroke-width="4"/>
<path d="M435 104 C432 184 388 250 392 302 C398 352 455 420 497 482 C501 400 503 320 495 262 C485 205 458 154 435 104Z" fill="url(#mo2_tip_t)" stroke="#3a7a4a" stroke-width="4"/>
<path d="M479.0 310.0 L467.1 334.1 L445.0 348.9 L423.4 333.5 L411.0 310.0 L422.2 285.1 L445.0 270.8 L466.6 286.5Z" fill="#ffffff" stroke="#3a7a3a" stroke-width="4"/>

</g>
<g transform="translate(830.1 583.9) scale(0.1346)" stroke-linejoin="round">
<path d="M290 320 L420 210 L560 250 L590 400 L515 580 L340 600 L290 470Z" fill="#fbd03a"/>
<path d="M555 149 C528 160 490 195 462 262 L522 262 C534 222 548 186 555 149Z" fill="url(#gY)" stroke="#d4a422" stroke-width="5"/>
<g clip-path="url(#cc9)"><path d="M555 149 C528 160 490 195 462 262 L522 262 C534 222 548 186 555 149Z" fill="none" stroke="#eeb028" stroke-width="12" filter="url(#bl5)"/></g>
<path d="M603 306 C630 372 608 470 564 532 C546 558 534 586 521 618 C496 560 474 470 486 400 C498 345 560 318 603 306Z" fill="url(#gY)" stroke="#d4a422" stroke-width="5"/>
<g clip-path="url(#cc8)"><path d="M603 306 C630 372 608 470 564 532 C546 558 534 586 521 618 C496 560 474 470 486 400 C498 345 560 318 603 306Z" fill="none" stroke="#eeb028" stroke-width="12" filter="url(#bl5)"/></g>
<path d="M574.8 419.3 L555.2 443.7 L528.0 454.6 L510.6 431.1 L505.2 400.7 L524.3 375.2 L552.1 364.9 L569.4 388.9Z" fill="#f0664a" stroke="#d64a2c" stroke-width="4"/>
<path d="M688 82 C672 86 650 102 625 132 C590 174 540 206 510 252 C490 286 480 320 474 352 C540 342 600 308 645 255 C688 205 697 142 688 82Z" fill="url(#gY)" stroke="#d4a422" stroke-width="5"/>
<g clip-path="url(#cc7)"><path d="M688 82 C672 86 650 102 625 132 C590 174 540 206 510 252 C490 286 480 320 474 352 C540 342 600 308 645 255 C688 205 697 142 688 82Z" fill="none" stroke="#eeb028" stroke-width="12" filter="url(#bl5)"/></g>
<path d="M595.4 263.5 L577.5 275.7 L556.2 277.3 L547.6 257.9 L548.6 236.5 L566.4 223.5 L587.9 222.5 L596.4 242.1Z" fill="#f0664a" stroke="#d64a2c" stroke-width="4"/>
<path d="M166 384 C195 285 270 172 430 182 C430 240 420 300 400 340 C335 345 240 360 166 384Z" fill="url(#gY)" stroke="#d4a422" stroke-width="5"/>
<g clip-path="url(#cc1)"><path d="M166 384 C195 285 270 172 430 182 C430 240 420 300 400 340 C335 345 240 360 166 384Z" fill="none" stroke="#eeb028" stroke-width="12" filter="url(#bl5)"/></g>
<path d="M371.0 256.3 L352.2 274.3 L327.1 280.5 L312.4 259.3 L309.0 233.7 L327.4 214.7 L353.1 209.1 L367.6 230.7Z" fill="#f0664a" stroke="#d64a2c" stroke-width="4"/>
<path d="M83 458 C120 442 150 412 185 385 C240 345 320 312 398 297 C410 340 405 380 392 425 C320 445 240 440 170 460 C130 470 98 474 83 458Z" fill="url(#gY)" stroke="#d4a422" stroke-width="5"/>
<g clip-path="url(#cc2)"><path d="M83 458 C120 442 150 412 185 385 C240 345 320 312 398 297 C410 340 405 380 392 425 C320 445 240 440 170 460 C130 470 98 474 83 458Z" fill="none" stroke="#eeb028" stroke-width="12" filter="url(#bl5)"/></g>
<path d="M299.4 348.9 L295.7 372.2 L278.3 393.5 L251.2 392.5 L230.6 381.1 L233.3 357.5 L251.6 336.2 L278.8 337.5Z" fill="#f0664a" stroke="#d64a2c" stroke-width="4"/>
<path d="M120 608 C165 594 195 552 222 505 C250 458 320 405 388 384 C400 430 392 480 360 522 C310 575 240 600 180 614 C150 622 126 622 120 608Z" fill="url(#gY)" stroke="#d4a422" stroke-width="5"/>
<g clip-path="url(#cc3)"><path d="M120 608 C165 594 195 552 222 505 C250 458 320 405 388 384 C400 430 392 480 360 522 C310 575 240 600 180 614 C150 622 126 622 120 608Z" fill="none" stroke="#eeb028" stroke-width="12" filter="url(#bl5)"/></g>
<path d="M336.0 453.7 L332.1 476.6 L316.1 495.6 L292.0 490.7 L274.0 476.3 L277.0 453.0 L293.8 434.1 L318.0 439.3Z" fill="#f0664a" stroke="#d64a2c" stroke-width="4"/>
<path d="M242 752 C228 700 236 630 268 560 C296 505 340 465 382 442 C402 520 392 595 334 658 C300 694 280 730 256 756 C250 761 244 759 242 752Z" fill="url(#gY)" stroke="#d4a422" stroke-width="5"/>
<g clip-path="url(#cc4)"><path d="M242 752 C228 700 236 630 268 560 C296 505 340 465 382 442 C402 520 392 595 334 658 C300 694 280 730 256 756 C250 761 244 759 242 752Z" fill="none" stroke="#eeb028" stroke-width="12" filter="url(#bl5)"/></g>
<path d="M359.5 570.2 L345.5 589.5 L324.0 599.1 L307.6 582.4 L300.5 559.8 L314.0 539.7 L336.1 530.6 L352.4 547.6Z" fill="#f0664a" stroke="#d64a2c" stroke-width="4"/>
<path d="M398 380 C368 465 382 560 430 625 C460 662 490 692 507 718 C503 620 512 520 484 440 C462 400 425 385 398 380Z" fill="url(#gY)" stroke="#d4a422" stroke-width="5"/>
<g clip-path="url(#cc6)"><path d="M398 380 C368 465 382 560 430 625 C460 662 490 692 507 718 C503 620 512 520 484 440 C462 400 425 385 398 380Z" fill="none" stroke="#eeb028" stroke-width="12" filter="url(#bl5)"/></g>
<path d="M466.0 527.2 L462.6 555.1 L447.9 575.6 L425.1 564.5 L408.0 542.8 L410.6 514.3 L426.0 494.0 L448.9 505.5Z" fill="#f0664a" stroke="#d64a2c" stroke-width="4"/>
<path d="M435 104 C432 184 388 250 392 302 C398 352 455 420 497 482 C501 400 503 320 495 262 C485 205 458 154 435 104Z" fill="url(#gY)" stroke="#d4a422" stroke-width="5"/>
<g clip-path="url(#cc5)"><path d="M435 104 C432 184 388 250 392 302 C398 352 455 420 497 482 C501 400 503 320 495 262 C485 205 458 154 435 104Z" fill="none" stroke="#eeb028" stroke-width="12" filter="url(#bl5)"/></g>
<path d="M479.0 310.0 L467.1 334.1 L445.0 348.9 L423.4 333.5 L411.0 310.0 L422.2 285.1 L445.0 270.8 L466.6 286.5Z" fill="#f0664a" stroke="#d64a2c" stroke-width="4"/>

</g>
<g transform="translate(830.1 690.0) scale(0.1346)" stroke-linejoin="round">
<path d="M290 320 L420 210 L560 250 L590 400 L515 580 L340 600 L290 470Z" fill="#a8cc36"/>
<path d="M555 149 C528 160 490 195 462 262 L522 262 C534 222 548 186 555 149Z" fill="url(#gG)" stroke="#8cb428" stroke-width="5"/>
<g clip-path="url(#cc9)"><path d="M555 149 C528 160 490 195 462 262 L522 262 C534 222 548 186 555 149Z" fill="none" stroke="#8ab82a" stroke-width="12" filter="url(#bl5)"/></g>
<path d="M603 306 C630 372 608 470 564 532 C546 558 534 586 521 618 C496 560 474 470 486 400 C498 345 560 318 603 306Z" fill="url(#gG)" stroke="#8cb428" stroke-width="5"/>
<g clip-path="url(#cc8)"><path d="M603 306 C630 372 608 470 564 532 C546 558 534 586 521 618 C496 560 474 470 486 400 C498 345 560 318 603 306Z" fill="none" stroke="#8ab82a" stroke-width="12" filter="url(#bl5)"/></g>
<path d="M574.8 419.3 L555.2 443.7 L528.0 454.6 L510.6 431.1 L505.2 400.7 L524.3 375.2 L552.1 364.9 L569.4 388.9Z" fill="#f6f8ea" stroke="none" stroke-width="4"/>
<path d="M688 82 C672 86 650 102 625 132 C590 174 540 206 510 252 C490 286 480 320 474 352 C540 342 600 308 645 255 C688 205 697 142 688 82Z" fill="url(#gG)" stroke="#8cb428" stroke-width="5"/>
<g clip-path="url(#cc7)"><path d="M688 82 C672 86 650 102 625 132 C590 174 540 206 510 252 C490 286 480 320 474 352 C540 342 600 308 645 255 C688 205 697 142 688 82Z" fill="none" stroke="#8ab82a" stroke-width="12" filter="url(#bl5)"/></g>
<path d="M595.4 263.5 L577.5 275.7 L556.2 277.3 L547.6 257.9 L548.6 236.5 L566.4 223.5 L587.9 222.5 L596.4 242.1Z" fill="#f6f8ea" stroke="none" stroke-width="4"/>
<path d="M166 384 C195 285 270 172 430 182 C430 240 420 300 400 340 C335 345 240 360 166 384Z" fill="url(#gG)" stroke="#8cb428" stroke-width="5"/>
<g clip-path="url(#cc1)"><path d="M166 384 C195 285 270 172 430 182 C430 240 420 300 400 340 C335 345 240 360 166 384Z" fill="none" stroke="#8ab82a" stroke-width="12" filter="url(#bl5)"/></g>
<path d="M371.0 256.3 L352.2 274.3 L327.1 280.5 L312.4 259.3 L309.0 233.7 L327.4 214.7 L353.1 209.1 L367.6 230.7Z" fill="#f6f8ea" stroke="none" stroke-width="4"/>
<path d="M83 458 C120 442 150 412 185 385 C240 345 320 312 398 297 C410 340 405 380 392 425 C320 445 240 440 170 460 C130 470 98 474 83 458Z" fill="url(#gG)" stroke="#8cb428" stroke-width="5"/>
<g clip-path="url(#cc2)"><path d="M83 458 C120 442 150 412 185 385 C240 345 320 312 398 297 C410 340 405 380 392 425 C320 445 240 440 170 460 C130 470 98 474 83 458Z" fill="none" stroke="#8ab82a" stroke-width="12" filter="url(#bl5)"/></g>
<path d="M299.4 348.9 L295.7 372.2 L278.3 393.5 L251.2 392.5 L230.6 381.1 L233.3 357.5 L251.6 336.2 L278.8 337.5Z" fill="#f6f8ea" stroke="none" stroke-width="4"/>
<path d="M120 608 C165 594 195 552 222 505 C250 458 320 405 388 384 C400 430 392 480 360 522 C310 575 240 600 180 614 C150 622 126 622 120 608Z" fill="url(#gG)" stroke="#8cb428" stroke-width="5"/>
<g clip-path="url(#cc3)"><path d="M120 608 C165 594 195 552 222 505 C250 458 320 405 388 384 C400 430 392 480 360 522 C310 575 240 600 180 614 C150 622 126 622 120 608Z" fill="none" stroke="#8ab82a" stroke-width="12" filter="url(#bl5)"/></g>
<path d="M336.0 453.7 L332.1 476.6 L316.1 495.6 L292.0 490.7 L274.0 476.3 L277.0 453.0 L293.8 434.1 L318.0 439.3Z" fill="#f6f8ea" stroke="none" stroke-width="4"/>
<path d="M242 752 C228 700 236 630 268 560 C296 505 340 465 382 442 C402 520 392 595 334 658 C300 694 280 730 256 756 C250 761 244 759 242 752Z" fill="url(#gG)" stroke="#8cb428" stroke-width="5"/>
<g clip-path="url(#cc4)"><path d="M242 752 C228 700 236 630 268 560 C296 505 340 465 382 442 C402 520 392 595 334 658 C300 694 280 730 256 756 C250 761 244 759 242 752Z" fill="none" stroke="#8ab82a" stroke-width="12" filter="url(#bl5)"/></g>
<path d="M359.5 570.2 L345.5 589.5 L324.0 599.1 L307.6 582.4 L300.5 559.8 L314.0 539.7 L336.1 530.6 L352.4 547.6Z" fill="#f6f8ea" stroke="none" stroke-width="4"/>
<path d="M398 380 C368 465 382 560 430 625 C460 662 490 692 507 718 C503 620 512 520 484 440 C462 400 425 385 398 380Z" fill="url(#gG)" stroke="#8cb428" stroke-width="5"/>
<g clip-path="url(#cc6)"><path d="M398 380 C368 465 382 560 430 625 C460 662 490 692 507 718 C503 620 512 520 484 440 C462 400 425 385 398 380Z" fill="none" stroke="#8ab82a" stroke-width="12" filter="url(#bl5)"/></g>
<path d="M466.0 527.2 L462.6 555.1 L447.9 575.6 L425.1 564.5 L408.0 542.8 L410.6 514.3 L426.0 494.0 L448.9 505.5Z" fill="#f6f8ea" stroke="none" stroke-width="4"/>
<path d="M435 104 C432 184 388 250 392 302 C398 352 455 420 497 482 C501 400 503 320 495 262 C485 205 458 154 435 104Z" fill="url(#gG)" stroke="#8cb428" stroke-width="5"/>
<g clip-path="url(#cc5)"><path d="M435 104 C432 184 388 250 392 302 C398 352 455 420 497 482 C501 400 503 320 495 262 C485 205 458 154 435 104Z" fill="none" stroke="#8ab82a" stroke-width="12" filter="url(#bl5)"/></g>
<path d="M479.0 310.0 L467.1 334.1 L445.0 348.9 L423.4 333.5 L411.0 310.0 L422.2 285.1 L445.0 270.8 L466.6 286.5Z" fill="#f6f8ea" stroke="none" stroke-width="4"/>

</g>
</svg>
<div class="t" style="left:258.30px;top:69.7px;letter-spacing:0.0px">Donor</div>
<div class="t" style="left:258.40px;top:179.8px;letter-spacing:0.0px">Tumor biopsy</div>
<div class="t" style="left:258.10px;top:285.9px;letter-spacing:0.0px">Cell line</div>
<div class="t" style="left:258.24px;top:405.6px;letter-spacing:0.07px">Chromosomal instability</div>
<div class="t" style="left:258.24px;top:512.0px;letter-spacing:0.08px">Microsatellite instability</div>
<div class="t" style="left:258.30px;top:630.6px;letter-spacing:0.2px">Cross-contamination</div>
<div class="t" style="left:258.30px;top:736.6px;letter-spacing:0.19px">Interchange</div>
<div class="t" style="left:674.41px;top:286.4px;letter-spacing:0.02px">Single cell subclone</div>
<div class="t" style="left:674.47px;top:405.4px;letter-spacing:0.13px">Selective outgrowth</div>
<div class="t" style="left:674.47px;top:511.8px;letter-spacing:0.13px">Selective outgrowth</div>
<div class="t" style="left:674.45px;top:630.6px;letter-spacing:0.1px">Overgrowth</div>
<div class="t" style="left:674.42px;top:736.6px;letter-spacing:0.05px">Mislabeling</div>
<div class="v" style="left:111.0px;top:182.42px;letter-spacing:1.16px">AUTHENTIC</div>
<div class="v" style="left:110.4px;top:468.53px;letter-spacing:0.94px">INSTABLE</div>
<div class="v" style="left:110.4px;top:692.68px;letter-spacing:1.43px">MISIDENTIFIED</div>
<div class="v" style="left:1147.0px;top:183.08px;letter-spacing:1.04px">VALID DATA</div>
<div class="v" style="left:1145.8px;top:580.75px;letter-spacing:1.3px">NON-REPRODUCIBLE</div>
<div class="c" style="left:1249.5px;top:766px">&#169; EMBO</div>
</div></body></html>
